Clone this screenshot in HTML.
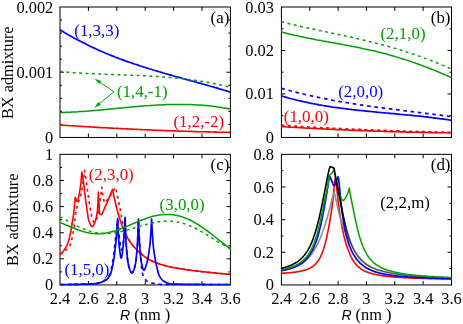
<!DOCTYPE html>
<html><head><meta charset="utf-8"><title>BX admixture</title>
<style>
html,body{margin:0;padding:0;background:#fff;}
svg{display:block;will-change:transform;}
text{font-family:"Liberation Serif",serif;font-size:16.4px;}
.lb{font-size:16.9px;}
.R{font-family:"Liberation Sans",sans-serif;font-style:italic;font-size:14px;}
</style></head>
<body>
<svg width="463" height="324" viewBox="0 0 463 324">
<rect width="463" height="324" fill="#fff"/>
<rect x="60.00" y="7.00" width="170.40" height="130.45" fill="none" stroke="#000" stroke-width="1.00"/>
<path d="M88.40 137.45 v-3.9 M88.40 7.00 v3.9 M116.80 137.45 v-3.9 M116.80 7.00 v3.9 M145.20 137.45 v-3.9 M145.20 7.00 v3.9 M173.60 137.45 v-3.9 M173.60 7.00 v3.9 M202.00 137.45 v-3.9 M202.00 7.00 v3.9 M60.00 72.22 h3.9 M230.40 72.22 h-3.9 M60.00 20.04 h2.0 M230.40 20.04 h-2.0 M60.00 33.09 h2.0 M230.40 33.09 h-2.0 M60.00 46.13 h2.0 M230.40 46.13 h-2.0 M60.00 59.18 h2.0 M230.40 59.18 h-2.0 M60.00 85.27 h2.0 M230.40 85.27 h-2.0 M60.00 98.31 h2.0 M230.40 98.31 h-2.0 M60.00 111.36 h2.0 M230.40 111.36 h-2.0 M60.00 124.41 h2.0 M230.40 124.41 h-2.0" fill="none" stroke="#000" stroke-width="1.00"/>
<rect x="281.40" y="7.00" width="170.10" height="130.45" fill="none" stroke="#000" stroke-width="1.00"/>
<path d="M309.75 137.45 v-3.9 M309.75 7.00 v3.9 M338.10 137.45 v-3.9 M338.10 7.00 v3.9 M366.45 137.45 v-3.9 M366.45 7.00 v3.9 M394.80 137.45 v-3.9 M394.80 7.00 v3.9 M423.15 137.45 v-3.9 M423.15 7.00 v3.9 M281.40 50.48 h3.9 M451.50 50.48 h-3.9 M281.40 93.97 h3.9 M451.50 93.97 h-3.9 M281.40 28.74 h2.0 M451.50 28.74 h-2.0 M281.40 72.22 h2.0 M451.50 72.22 h-2.0 M281.40 115.71 h2.0 M451.50 115.71 h-2.0" fill="none" stroke="#000" stroke-width="1.00"/>
<rect x="60.00" y="154.35" width="170.40" height="130.60" fill="none" stroke="#000" stroke-width="1.00"/>
<path d="M88.40 284.95 v-3.9 M88.40 154.35 v3.9 M116.80 284.95 v-3.9 M116.80 154.35 v3.9 M145.20 284.95 v-3.9 M145.20 154.35 v3.9 M173.60 284.95 v-3.9 M173.60 154.35 v3.9 M202.00 284.95 v-3.9 M202.00 154.35 v3.9 M60.00 180.47 h3.9 M230.40 180.47 h-3.9 M60.00 206.59 h3.9 M230.40 206.59 h-3.9 M60.00 232.71 h3.9 M230.40 232.71 h-3.9 M60.00 258.83 h3.9 M230.40 258.83 h-3.9 M60.00 167.41 h2.0 M230.40 167.41 h-2.0 M60.00 193.53 h2.0 M230.40 193.53 h-2.0 M60.00 219.65 h2.0 M230.40 219.65 h-2.0 M60.00 245.77 h2.0 M230.40 245.77 h-2.0 M60.00 271.89 h2.0 M230.40 271.89 h-2.0" fill="none" stroke="#000" stroke-width="1.00"/>
<rect x="281.40" y="154.35" width="170.10" height="130.60" fill="none" stroke="#000" stroke-width="1.00"/>
<path d="M309.75 284.95 v-3.9 M309.75 154.35 v3.9 M338.10 284.95 v-3.9 M338.10 154.35 v3.9 M366.45 284.95 v-3.9 M366.45 154.35 v3.9 M394.80 284.95 v-3.9 M394.80 154.35 v3.9 M423.15 284.95 v-3.9 M423.15 154.35 v3.9 M281.40 187.00 h3.9 M451.50 187.00 h-3.9 M281.40 219.65 h3.9 M451.50 219.65 h-3.9 M281.40 252.30 h3.9 M451.50 252.30 h-3.9 M281.40 170.67 h2.0 M451.50 170.67 h-2.0 M281.40 203.32 h2.0 M451.50 203.32 h-2.0 M281.40 235.97 h2.0 M451.50 235.97 h-2.0 M281.40 268.62 h2.0 M451.50 268.62 h-2.0" fill="none" stroke="#000" stroke-width="1.00"/>
<path d="M60.0 29.8 L62.0 31.0 L64.0 32.2 L65.9 33.4 L67.9 34.6 L69.9 35.7 L71.9 36.8 L73.9 37.9 L75.9 39.0 L77.8 40.1 L79.8 41.1 L81.8 42.1 L83.8 43.1 L85.8 44.1 L87.7 45.1 L89.7 46.1 L91.7 47.0 L93.7 47.9 L95.7 48.8 L97.6 49.7 L99.6 50.6 L101.6 51.5 L103.6 52.3 L105.6 53.2 L107.6 54.0 L109.5 54.8 L111.5 55.6 L113.5 56.4 L115.5 57.2 L117.5 57.9 L119.4 58.7 L121.4 59.4 L123.4 60.1 L125.4 60.9 L127.4 61.6 L129.3 62.3 L131.3 62.9 L133.3 63.6 L135.3 64.3 L137.3 64.9 L139.3 65.6 L141.2 66.2 L143.2 66.9 L145.2 67.5 L147.2 68.1 L149.2 68.7 L151.1 69.3 L153.1 70.0 L155.1 70.5 L157.1 71.1 L159.1 71.7 L161.1 72.3 L163.0 72.9 L165.0 73.5 L167.0 74.0 L169.0 74.6 L171.0 75.1 L172.9 75.7 L174.9 76.3 L176.9 76.8 L178.9 77.4 L180.9 77.9 L182.8 78.5 L184.8 79.0 L186.8 79.6 L188.8 80.1 L190.8 80.7 L192.8 81.2 L194.7 81.8 L196.7 82.3 L198.7 82.9 L200.7 83.4 L202.7 84.0 L204.6 84.5 L206.6 85.1 L208.6 85.7 L210.6 86.2 L212.6 86.8 L214.5 87.4 L216.5 87.9 L218.5 88.5 L220.5 89.1 L222.5 89.7 L224.5 90.3 L226.4 90.9 L228.4 91.5 L230.4 92.2" fill="none" stroke="#0000ff" stroke-width="1.70" stroke-linejoin="round"/>
<path d="M60.0 71.4 L62.0 71.6 L64.0 71.8 L65.9 72.0 L67.9 72.2 L69.9 72.4 L71.9 72.5 L73.9 72.7 L75.9 72.8 L77.8 73.0 L79.8 73.1 L81.8 73.2 L83.8 73.3 L85.8 73.5 L87.7 73.6 L89.7 73.7 L91.7 73.8 L93.7 73.8 L95.7 73.9 L97.6 74.0 L99.6 74.1 L101.6 74.2 L103.6 74.2 L105.6 74.3 L107.6 74.4 L109.5 74.4 L111.5 74.5 L113.5 74.6 L115.5 74.6 L117.5 74.7 L119.4 74.7 L121.4 74.8 L123.4 74.9 L125.4 74.9 L127.4 75.0 L129.3 75.1 L131.3 75.2 L133.3 75.2 L135.3 75.3 L137.3 75.4 L139.3 75.5 L141.2 75.6 L143.2 75.7 L145.2 75.8 L147.2 75.9 L149.2 76.0 L151.1 76.1 L153.1 76.2 L155.1 76.3 L157.1 76.4 L159.1 76.6 L161.1 76.7 L163.0 76.9 L165.0 77.0 L167.0 77.2 L169.0 77.4 L171.0 77.5 L172.9 77.7 L174.9 77.9 L176.9 78.1 L178.9 78.3 L180.9 78.5 L182.8 78.8 L184.8 79.0 L186.8 79.2 L188.8 79.5 L190.8 79.8 L192.8 80.0 L194.7 80.3 L196.7 80.6 L198.7 80.9 L200.7 81.2 L202.7 81.5 L204.6 81.9 L206.6 82.2 L208.6 82.6 L210.6 82.9 L212.6 83.3 L214.5 83.7 L216.5 84.1 L218.5 84.5 L220.5 84.9 L222.5 85.4 L224.5 85.8 L226.4 86.3 L228.4 86.7 L230.4 87.2" fill="none" stroke="#00a000" stroke-width="1.50" stroke-linejoin="round" stroke-dasharray="2.9 3.5"/>
<path d="M60.0 112.5 L62.0 112.5 L64.0 112.4 L65.9 112.3 L67.9 112.3 L69.9 112.2 L71.9 112.1 L73.9 112.0 L75.9 111.9 L77.8 111.8 L79.8 111.6 L81.8 111.5 L83.8 111.4 L85.8 111.2 L87.7 111.1 L89.7 110.9 L91.7 110.7 L93.7 110.6 L95.7 110.4 L97.6 110.2 L99.6 110.0 L101.6 109.9 L103.6 109.7 L105.6 109.5 L107.6 109.3 L109.5 109.1 L111.5 108.9 L113.5 108.7 L115.5 108.5 L117.5 108.3 L119.4 108.1 L121.4 107.9 L123.4 107.8 L125.4 107.6 L127.4 107.4 L129.3 107.2 L131.3 107.0 L133.3 106.8 L135.3 106.7 L137.3 106.5 L139.3 106.3 L141.2 106.2 L143.2 106.0 L145.2 105.8 L147.2 105.7 L149.2 105.6 L151.1 105.4 L153.1 105.3 L155.1 105.2 L157.1 105.1 L159.1 105.0 L161.1 104.9 L163.0 104.8 L165.0 104.7 L167.0 104.6 L169.0 104.6 L171.0 104.5 L172.9 104.5 L174.9 104.4 L176.9 104.4 L178.9 104.4 L180.9 104.4 L182.8 104.4 L184.8 104.5 L186.8 104.5 L188.8 104.6 L190.8 104.6 L192.8 104.7 L194.7 104.8 L196.7 104.9 L198.7 105.0 L200.7 105.1 L202.7 105.3 L204.6 105.5 L206.6 105.6 L208.6 105.8 L210.6 106.0 L212.6 106.3 L214.5 106.5 L216.5 106.8 L218.5 107.1 L220.5 107.3 L222.5 107.7 L224.5 108.0 L226.4 108.3 L228.4 108.7 L230.4 109.1" fill="none" stroke="#00a000" stroke-width="1.50" stroke-linejoin="round"/>
<path d="M60.0 125.0 L62.0 125.1 L64.0 125.3 L65.9 125.4 L67.9 125.5 L69.9 125.7 L71.9 125.8 L73.9 125.9 L75.9 126.0 L77.8 126.2 L79.8 126.3 L81.8 126.4 L83.8 126.5 L85.8 126.7 L87.7 126.8 L89.7 126.9 L91.7 127.0 L93.7 127.1 L95.7 127.3 L97.6 127.4 L99.6 127.5 L101.6 127.6 L103.6 127.7 L105.6 127.8 L107.6 127.9 L109.5 128.0 L111.5 128.1 L113.5 128.2 L115.5 128.3 L117.5 128.4 L119.4 128.5 L121.4 128.6 L123.4 128.7 L125.4 128.8 L127.4 128.9 L129.3 129.0 L131.3 129.1 L133.3 129.2 L135.3 129.3 L137.3 129.4 L139.3 129.5 L141.2 129.6 L143.2 129.7 L145.2 129.8 L147.2 129.9 L149.2 129.9 L151.1 130.0 L153.1 130.1 L155.1 130.2 L157.1 130.3 L159.1 130.3 L161.1 130.4 L163.0 130.5 L165.0 130.6 L167.0 130.6 L169.0 130.7 L171.0 130.8 L172.9 130.9 L174.9 130.9 L176.9 131.0 L178.9 131.1 L180.9 131.1 L182.8 131.2 L184.8 131.3 L186.8 131.3 L188.8 131.4 L190.8 131.4 L192.8 131.5 L194.7 131.6 L196.7 131.6 L198.7 131.7 L200.7 131.7 L202.7 131.8 L204.6 131.8 L206.6 131.9 L208.6 131.9 L210.6 132.0 L212.6 132.0 L214.5 132.1 L216.5 132.1 L218.5 132.2 L220.5 132.2 L222.5 132.2 L224.5 132.3 L226.4 132.3 L228.4 132.4 L230.4 132.4" fill="none" stroke="#ff0000" stroke-width="1.60" stroke-linejoin="round"/>
<path d="M114.0 91.8 L100.1 82.4" fill="none" stroke="#00a000" stroke-width="1"/>
<path d="M94.9 78.9 L101.1 81.0 L99.2 83.8 Z" fill="#00a000" stroke="#00a000" stroke-width="0.3"/>
<path d="M114.0 91.8 L99.6 103.4" fill="none" stroke="#00a000" stroke-width="1"/>
<path d="M94.7 107.4 L98.5 102.1 L100.7 104.8 Z" fill="#00a000" stroke="#00a000" stroke-width="0.3"/>
<path d="M281.4 21.7 L283.4 22.2 L285.4 22.7 L287.3 23.2 L289.3 23.7 L291.3 24.2 L293.3 24.6 L295.2 25.1 L297.2 25.6 L299.2 26.0 L301.2 26.5 L303.2 26.9 L305.1 27.4 L307.1 27.8 L309.1 28.2 L311.1 28.7 L313.0 29.1 L315.0 29.5 L317.0 30.0 L319.0 30.4 L321.0 30.8 L322.9 31.2 L324.9 31.6 L326.9 32.1 L328.9 32.5 L330.8 32.9 L332.8 33.3 L334.8 33.7 L336.8 34.1 L338.8 34.6 L340.7 35.0 L342.7 35.4 L344.7 35.8 L346.7 36.3 L348.6 36.7 L350.6 37.1 L352.6 37.6 L354.6 38.0 L356.6 38.5 L358.5 38.9 L360.5 39.4 L362.5 39.9 L364.5 40.3 L366.4 40.8 L368.4 41.3 L370.4 41.8 L372.4 42.3 L374.4 42.7 L376.3 43.3 L378.3 43.8 L380.3 44.3 L382.3 44.8 L384.3 45.3 L386.2 45.9 L388.2 46.4 L390.2 47.0 L392.2 47.5 L394.1 48.1 L396.1 48.7 L398.1 49.3 L400.1 49.9 L402.1 50.5 L404.0 51.1 L406.0 51.7 L408.0 52.4 L410.0 53.0 L411.9 53.7 L413.9 54.3 L415.9 55.0 L417.9 55.7 L419.9 56.4 L421.8 57.1 L423.8 57.8 L425.8 58.6 L427.8 59.3 L429.7 60.0 L431.7 60.8 L433.7 61.6 L435.7 62.4 L437.7 63.2 L439.6 64.0 L441.6 64.8 L443.6 65.6 L445.6 66.5 L447.5 67.3 L449.5 68.2 L451.5 69.1" fill="none" stroke="#00a000" stroke-width="1.50" stroke-linejoin="round" stroke-dasharray="2.9 3.5"/>
<path d="M281.4 31.8 L283.4 32.4 L285.4 32.9 L287.3 33.4 L289.3 33.9 L291.3 34.4 L293.3 34.9 L295.2 35.4 L297.2 35.8 L299.2 36.3 L301.2 36.7 L303.2 37.1 L305.1 37.5 L307.1 37.9 L309.1 38.3 L311.1 38.7 L313.0 39.1 L315.0 39.5 L317.0 39.9 L319.0 40.2 L321.0 40.6 L322.9 41.0 L324.9 41.3 L326.9 41.7 L328.9 42.0 L330.8 42.4 L332.8 42.7 L334.8 43.1 L336.8 43.5 L338.8 43.8 L340.7 44.2 L342.7 44.5 L344.7 44.9 L346.7 45.3 L348.6 45.6 L350.6 46.0 L352.6 46.4 L354.6 46.8 L356.6 47.2 L358.5 47.6 L360.5 48.0 L362.5 48.4 L364.5 48.9 L366.4 49.3 L368.4 49.7 L370.4 50.2 L372.4 50.6 L374.4 51.1 L376.3 51.6 L378.3 52.0 L380.3 52.5 L382.3 53.0 L384.3 53.6 L386.2 54.1 L388.2 54.6 L390.2 55.2 L392.2 55.7 L394.1 56.3 L396.1 56.9 L398.1 57.5 L400.1 58.1 L402.1 58.7 L404.0 59.3 L406.0 59.9 L408.0 60.6 L410.0 61.2 L411.9 61.9 L413.9 62.6 L415.9 63.3 L417.9 64.0 L419.9 64.7 L421.8 65.4 L423.8 66.2 L425.8 66.9 L427.8 67.7 L429.7 68.5 L431.7 69.3 L433.7 70.1 L435.7 70.9 L437.7 71.7 L439.6 72.5 L441.6 73.4 L443.6 74.2 L445.6 75.1 L447.5 75.9 L449.5 76.8 L451.5 77.7" fill="none" stroke="#00a000" stroke-width="1.50" stroke-linejoin="round"/>
<path d="M281.4 88.3 L283.4 88.9 L285.4 89.4 L287.3 90.0 L289.3 90.5 L291.3 91.0 L293.3 91.6 L295.2 92.1 L297.2 92.6 L299.2 93.1 L301.2 93.5 L303.2 94.0 L305.1 94.5 L307.1 94.9 L309.1 95.4 L311.1 95.8 L313.0 96.3 L315.0 96.7 L317.0 97.1 L319.0 97.5 L321.0 97.9 L322.9 98.3 L324.9 98.7 L326.9 99.1 L328.9 99.5 L330.8 99.9 L332.8 100.3 L334.8 100.6 L336.8 101.0 L338.8 101.3 L340.7 101.7 L342.7 102.0 L344.7 102.3 L346.7 102.7 L348.6 103.0 L350.6 103.3 L352.6 103.6 L354.6 103.9 L356.6 104.3 L358.5 104.6 L360.5 104.9 L362.5 105.1 L364.5 105.4 L366.4 105.7 L368.4 106.0 L370.4 106.3 L372.4 106.6 L374.4 106.8 L376.3 107.1 L378.3 107.4 L380.3 107.6 L382.3 107.9 L384.3 108.2 L386.2 108.4 L388.2 108.7 L390.2 108.9 L392.2 109.2 L394.1 109.4 L396.1 109.7 L398.1 109.9 L400.1 110.2 L402.1 110.4 L404.0 110.7 L406.0 110.9 L408.0 111.1 L410.0 111.4 L411.9 111.6 L413.9 111.9 L415.9 112.1 L417.9 112.3 L419.9 112.6 L421.8 112.8 L423.8 113.1 L425.8 113.3 L427.8 113.6 L429.7 113.8 L431.7 114.1 L433.7 114.3 L435.7 114.5 L437.7 114.8 L439.6 115.0 L441.6 115.3 L443.6 115.6 L445.6 115.8 L447.5 116.1 L449.5 116.3 L451.5 116.6" fill="none" stroke="#0000ff" stroke-width="1.70" stroke-linejoin="round" stroke-dasharray="3.6 3.7"/>
<path d="M281.4 95.9 L283.4 96.5 L285.4 97.1 L287.3 97.6 L289.3 98.2 L291.3 98.7 L293.3 99.2 L295.2 99.7 L297.2 100.2 L299.2 100.7 L301.2 101.1 L303.2 101.6 L305.1 102.0 L307.1 102.4 L309.1 102.9 L311.1 103.3 L313.0 103.7 L315.0 104.0 L317.0 104.4 L319.0 104.8 L321.0 105.1 L322.9 105.5 L324.9 105.8 L326.9 106.1 L328.9 106.4 L330.8 106.8 L332.8 107.1 L334.8 107.3 L336.8 107.6 L338.8 107.9 L340.7 108.2 L342.7 108.4 L344.7 108.7 L346.7 108.9 L348.6 109.2 L350.6 109.4 L352.6 109.7 L354.6 109.9 L356.6 110.1 L358.5 110.3 L360.5 110.5 L362.5 110.7 L364.5 110.9 L366.4 111.1 L368.4 111.3 L370.4 111.5 L372.4 111.7 L374.4 111.9 L376.3 112.1 L378.3 112.3 L380.3 112.5 L382.3 112.7 L384.3 112.8 L386.2 113.0 L388.2 113.2 L390.2 113.4 L392.2 113.6 L394.1 113.7 L396.1 113.9 L398.1 114.1 L400.1 114.3 L402.1 114.5 L404.0 114.7 L406.0 114.8 L408.0 115.0 L410.0 115.2 L411.9 115.4 L413.9 115.6 L415.9 115.8 L417.9 116.0 L419.9 116.2 L421.8 116.4 L423.8 116.7 L425.8 116.9 L427.8 117.1 L429.7 117.3 L431.7 117.6 L433.7 117.8 L435.7 118.1 L437.7 118.3 L439.6 118.6 L441.6 118.8 L443.6 119.1 L445.6 119.4 L447.5 119.7 L449.5 120.0 L451.5 120.3" fill="none" stroke="#0000ff" stroke-width="1.70" stroke-linejoin="round"/>
<path d="M281.4 126.6 L283.4 126.7 L285.4 126.8 L287.3 127.0 L289.3 127.1 L291.3 127.2 L293.3 127.3 L295.2 127.4 L297.2 127.5 L299.2 127.6 L301.2 127.8 L303.2 127.9 L305.1 128.0 L307.1 128.1 L309.1 128.2 L311.1 128.3 L313.0 128.4 L315.0 128.5 L317.0 128.6 L319.0 128.7 L321.0 128.8 L322.9 128.9 L324.9 129.0 L326.9 129.1 L328.9 129.2 L330.8 129.3 L332.8 129.4 L334.8 129.5 L336.8 129.6 L338.8 129.6 L340.7 129.7 L342.7 129.8 L344.7 129.9 L346.7 130.0 L348.6 130.1 L350.6 130.2 L352.6 130.2 L354.6 130.3 L356.6 130.4 L358.5 130.5 L360.5 130.6 L362.5 130.6 L364.5 130.7 L366.4 130.8 L368.4 130.9 L370.4 130.9 L372.4 131.0 L374.4 131.1 L376.3 131.1 L378.3 131.2 L380.3 131.3 L382.3 131.3 L384.3 131.4 L386.2 131.5 L388.2 131.5 L390.2 131.6 L392.2 131.6 L394.1 131.7 L396.1 131.8 L398.1 131.8 L400.1 131.9 L402.1 131.9 L404.0 132.0 L406.0 132.0 L408.0 132.1 L410.0 132.1 L411.9 132.2 L413.9 132.2 L415.9 132.3 L417.9 132.3 L419.9 132.4 L421.8 132.4 L423.8 132.4 L425.8 132.5 L427.8 132.5 L429.7 132.6 L431.7 132.6 L433.7 132.6 L435.7 132.7 L437.7 132.7 L439.6 132.7 L441.6 132.8 L443.6 132.8 L445.6 132.8 L447.5 132.8 L449.5 132.9 L451.5 132.9" fill="none" stroke="#ff0000" stroke-width="1.60" stroke-linejoin="round"/>
<path d="M281.4 125.3 L283.4 125.4 L285.4 125.5 L287.3 125.7 L289.3 125.8 L291.3 125.9 L293.3 126.0 L295.2 126.1 L297.2 126.2 L299.2 126.4 L301.2 126.5 L303.2 126.6 L305.1 126.7 L307.1 126.8 L309.1 126.9 L311.1 127.0 L313.0 127.1 L315.0 127.2 L317.0 127.3 L319.0 127.5 L321.0 127.6 L322.9 127.7 L324.9 127.8 L326.9 127.9 L328.9 128.0 L330.8 128.1 L332.8 128.2 L334.8 128.3 L336.8 128.3 L338.8 128.4 L340.7 128.5 L342.7 128.6 L344.7 128.7 L346.7 128.8 L348.6 128.9 L350.6 129.0 L352.6 129.1 L354.6 129.2 L356.6 129.3 L358.5 129.3 L360.5 129.4 L362.5 129.5 L364.5 129.6 L366.4 129.7 L368.4 129.8 L370.4 129.8 L372.4 129.9 L374.4 130.0 L376.3 130.1 L378.3 130.1 L380.3 130.2 L382.3 130.3 L384.3 130.4 L386.2 130.4 L388.2 130.5 L390.2 130.6 L392.2 130.7 L394.1 130.7 L396.1 130.8 L398.1 130.9 L400.1 130.9 L402.1 131.0 L404.0 131.1 L406.0 131.1 L408.0 131.2 L410.0 131.2 L411.9 131.3 L413.9 131.4 L415.9 131.4 L417.9 131.5 L419.9 131.5 L421.8 131.6 L423.8 131.6 L425.8 131.7 L427.8 131.7 L429.7 131.8 L431.7 131.8 L433.7 131.9 L435.7 131.9 L437.7 132.0 L439.6 132.0 L441.6 132.1 L443.6 132.1 L445.6 132.2 L447.5 132.2 L449.5 132.3 L451.5 132.3" fill="none" stroke="#ff0000" stroke-width="1.60" stroke-linejoin="round" stroke-dasharray="2.9 3.5"/>
<path d="M60.0 253.9 L60.5 253.7 L61.0 253.5 L61.5 253.1 L62.0 252.7 L62.5 252.2 L62.9 251.6 L63.4 251.0 L63.9 250.3 L64.4 249.6 L64.9 248.8 L65.4 248.1 L65.8 247.4 L65.9 247.3 L66.4 246.4 L66.9 245.4 L67.4 244.2 L67.8 243.0 L68.3 241.6 L68.8 240.0 L69.3 238.4 L69.7 237.0 L69.8 236.6 L70.3 234.3 L70.8 231.5 L71.3 228.6 L71.6 226.7 L71.8 225.7 L72.3 223.0 L72.7 220.1 L73.2 216.9 L73.5 215.0 L73.7 213.1 L74.2 208.5 L74.7 203.2 L75.2 197.3 L76.8 201.2 L77.3 200.8 L77.8 199.8 L78.3 198.3 L78.8 196.2 L79.3 193.6 L79.8 190.8 L80.3 187.7 L80.7 185.0 L80.8 184.3 L81.3 178.8 L81.8 172.0 L82.3 174.6 L82.8 177.5 L83.3 180.6 L83.8 184.0 L83.9 185.0 L84.2 187.6 L84.7 191.9 L85.2 196.2 L85.7 200.3 L85.9 201.8 L86.2 203.9 L86.7 207.5 L87.2 211.1 L87.7 214.4 L88.1 217.3 L88.6 219.7 L89.1 221.3 L89.1 221.4 L89.6 222.6 L90.1 223.8 L90.6 224.9 L91.1 225.8 L91.6 226.4 L92.1 226.8 L92.3 226.8 L92.5 226.7 L93.0 226.3 L93.5 225.6 L94.0 224.5 L94.5 223.3 L95.0 221.9 L95.5 220.4 L95.6 220.0 L96.0 218.8 L96.4 216.9 L96.9 214.3 L97.4 210.7 L97.5 210.0 L97.9 203.6 L98.4 192.0 L99.5 213.5 L100.0 214.1 L100.5 214.4 L101.0 214.6 L101.2 214.6 L101.5 214.5 L102.0 214.0 L102.5 213.2 L103.0 212.1 L103.5 210.8 L104.0 209.5 L104.5 208.2 L105.0 207.0 L105.5 205.9 L106.0 204.8 L106.5 203.7 L107.0 202.6 L107.5 201.5 L108.0 200.3 L108.5 199.2 L109.0 198.0 L109.5 196.8 L110.0 195.6 L110.5 194.4 L111.0 193.1 L111.5 191.9 L112.0 190.6 L112.5 189.3 L113.0 191.9 L113.5 194.4 L114.0 196.8 L114.5 199.1 L114.7 200.0 L115.0 201.3 L115.5 203.4 L116.0 205.5 L116.5 207.5 L117.0 209.4 L117.5 211.2 L118.0 213.0 L118.0 213.0 L118.5 214.7 L119.0 216.4 L119.5 218.1 L120.0 219.7 L120.5 221.2 L121.0 222.8 L121.5 224.2 L122.0 225.6 L122.5 227.0 L123.0 228.2 L123.1 228.5 L123.5 229.4 L124.0 230.6 L124.5 231.7 L125.0 232.8 L125.5 233.9 L126.0 234.9 L126.5 235.9 L127.0 236.8 L127.5 237.7 L128.0 238.6 L128.5 239.4 L129.0 240.2 L129.0 240.2 L129.5 240.9 L130.0 241.7 L130.5 242.4 L131.0 243.1 L131.5 243.7 L132.0 244.4 L132.5 245.0 L133.0 245.6 L133.5 246.2 L134.0 246.8 L134.5 247.4 L135.0 247.9 L135.5 248.5 L136.0 249.0 L136.5 249.5 L137.0 250.0 L137.5 250.5 L138.0 251.0 L138.0 251.0 L138.5 251.4 L139.0 251.9 L139.5 252.4 L140.0 252.8 L140.5 253.2 L141.0 253.7 L141.5 254.1 L142.0 254.5 L142.5 254.9 L143.0 255.4 L143.5 255.8 L144.0 256.1 L144.5 256.5 L145.0 256.9 L145.5 257.3 L146.0 257.6 L146.5 257.9 L147.0 258.3 L147.5 258.6 L148.0 258.9 L148.5 259.2 L149.0 259.5 L149.5 259.7 L150.0 260.0 L150.0 260.0 L150.5 260.2 L151.0 260.5 L151.5 260.7 L152.0 260.9 L152.5 261.2 L153.0 261.4 L153.5 261.6 L154.0 261.8 L154.5 262.0 L155.0 262.2 L155.5 262.4 L156.0 262.6 L156.5 262.8 L157.0 263.0 L157.5 263.2 L158.0 263.4 L158.5 263.6 L159.0 263.7 L159.5 263.9 L160.0 264.1 L160.5 264.2 L161.0 264.4 L161.5 264.6 L162.0 264.7 L162.5 264.9 L163.0 265.0 L163.5 265.2 L164.0 265.3 L164.5 265.5 L165.0 265.6 L165.5 265.7 L166.0 265.9 L166.5 266.0 L167.0 266.1 L167.5 266.2 L168.0 266.4 L168.5 266.5 L168.5 266.5 L169.0 266.6 L169.5 266.7 L170.0 266.8 L170.5 266.9 L171.0 267.1 L171.4 267.2 L171.9 267.3 L172.4 267.4 L172.9 267.5 L173.4 267.6 L173.9 267.7 L174.4 267.8 L174.9 267.9 L175.4 268.0 L175.9 268.0 L176.4 268.1 L176.9 268.2 L177.4 268.3 L177.9 268.4 L178.4 268.5 L178.9 268.6 L179.4 268.7 L179.9 268.7 L180.4 268.8 L180.9 268.9 L181.4 269.0 L181.9 269.1 L182.4 269.1 L182.9 269.2 L183.4 269.3 L183.9 269.4 L184.4 269.4 L184.9 269.5 L185.4 269.6 L185.9 269.6 L186.4 269.7 L186.9 269.8 L187.0 269.8 L187.4 269.9 L187.9 269.9 L188.4 270.0 L188.9 270.1 L189.4 270.1 L189.9 270.2 L190.4 270.3 L190.9 270.3 L191.4 270.4 L191.9 270.5 L192.4 270.5 L192.9 270.6 L193.4 270.6 L193.9 270.7 L194.4 270.8 L194.9 270.8 L195.4 270.9 L195.9 270.9 L196.4 271.0 L196.9 271.1 L197.4 271.1 L197.9 271.2 L198.4 271.2 L198.9 271.3 L199.4 271.3 L199.9 271.4 L200.4 271.4 L200.9 271.5 L201.4 271.6 L201.9 271.6 L202.4 271.7 L202.9 271.7 L203.4 271.8 L203.9 271.8 L204.4 271.9 L204.9 271.9 L205.4 272.0 L205.6 272.0 L205.9 272.0 L206.4 272.1 L206.9 272.1 L207.4 272.2 L207.9 272.2 L208.4 272.3 L208.9 272.4 L209.4 272.4 L209.9 272.5 L210.4 272.5 L210.9 272.6 L211.4 272.6 L211.9 272.7 L212.4 272.7 L212.9 272.8 L213.4 272.8 L213.9 272.9 L214.4 272.9 L214.9 273.0 L215.4 273.0 L215.9 273.1 L216.4 273.1 L216.9 273.2 L217.4 273.2 L217.9 273.3 L218.4 273.3 L218.9 273.4 L219.4 273.4 L219.9 273.5 L220.4 273.5 L220.9 273.5 L221.4 273.6 L221.9 273.6 L222.4 273.7 L222.9 273.7 L223.4 273.8 L223.9 273.8 L224.4 273.9 L224.9 273.9 L225.4 274.0 L225.9 274.0 L226.4 274.1 L226.9 274.1 L227.4 274.1 L227.9 274.2 L228.4 274.2 L228.9 274.3 L229.4 274.3 L229.9 274.4 L230.4 274.4" fill="none" stroke="#ff0000" stroke-width="1.60" stroke-linejoin="round"/>
<path d="M60.0 254.5 L60.5 254.2 L61.0 253.9 L61.5 253.6 L62.0 253.3 L62.5 252.9 L63.0 252.6 L63.4 252.2 L63.9 251.8 L64.4 251.4 L64.5 251.3 L64.9 250.9 L65.4 250.5 L65.9 250.1 L66.4 249.7 L66.9 249.3 L67.4 248.8 L67.9 248.3 L68.4 247.8 L68.9 247.1 L69.3 246.4 L69.8 245.6 L70.3 244.8 L70.3 244.7 L70.8 243.4 L71.3 241.5 L71.8 239.3 L72.3 237.0 L72.8 234.7 L73.3 232.2 L73.8 229.4 L74.2 226.7 L74.3 226.2 L74.8 221.8 L75.3 217.0 L75.5 215.0 L75.7 213.4 L76.2 210.5 L76.7 208.0 L76.8 207.7 L77.2 206.0 L77.7 204.2 L78.2 202.7 L78.7 201.3 L79.2 200.0 L79.7 198.6 L80.2 197.1 L80.7 195.4 L81.2 193.4 L81.3 192.8 L81.6 191.1 L82.1 188.4 L82.6 185.3 L83.1 181.9 L83.6 178.3 L84.1 174.4 L84.6 170.4 L85.1 173.4 L85.6 176.6 L86.1 179.8 L86.6 183.1 L87.0 186.5 L87.2 187.6 L87.5 190.0 L88.0 193.8 L88.5 197.6 L89.0 201.1 L89.1 201.8 L89.5 204.3 L90.0 207.4 L90.5 210.3 L91.0 212.9 L91.4 215.1 L91.7 216.1 L91.9 216.9 L92.4 218.6 L92.9 220.2 L93.4 221.5 L93.9 222.3 L94.3 222.6 L94.4 222.6 L94.9 222.3 L95.3 221.7 L95.8 220.8 L96.3 219.7 L96.8 218.5 L97.0 218.0 L97.3 217.1 L97.8 215.1 L98.3 212.5 L98.8 209.5 L99.3 206.3 L99.7 202.9 L100.1 200.5 L100.2 199.6 L100.7 195.8 L101.2 191.7 L101.7 187.3 L102.2 190.8 L102.7 193.9 L103.0 195.7 L103.2 196.5 L103.6 199.0 L104.1 201.2 L104.6 202.6 L104.9 202.9 L105.1 202.9 L105.6 202.6 L106.1 202.0 L106.6 201.3 L107.0 200.5 L107.5 199.7 L108.0 199.0 L108.0 199.0 L108.5 198.3 L109.0 197.6 L109.5 196.9 L110.0 196.2 L110.4 195.4 L110.9 194.7 L111.4 193.9 L111.9 193.2 L112.4 192.4 L112.9 191.6 L113.4 190.7 L113.8 189.9 L114.3 189.1 L114.8 188.2 L115.3 187.3 L115.8 189.3 L116.3 191.3 L116.8 193.4 L117.3 195.6 L117.8 197.8 L117.9 198.3 L118.3 200.1 L118.8 202.5 L119.3 205.0 L119.8 207.6 L120.3 210.2 L120.5 211.3 L120.8 212.8 L121.3 215.6 L121.8 218.4 L122.3 221.0 L122.5 222.0 L122.8 223.2 L123.3 225.3 L123.8 227.3 L124.3 229.2 L124.8 230.8 L125.0 231.5 L125.3 232.2 L125.8 233.6 L126.3 234.8 L126.8 235.9 L127.3 237.0 L127.8 238.0 L128.3 238.9 L128.8 239.8 L129.0 240.2 L129.3 240.6 L129.7 241.4 L130.2 242.1 L130.7 242.8 L131.2 243.5 L131.7 244.2 L132.2 244.8 L132.7 245.4 L133.2 246.0 L133.7 246.6 L134.2 247.2 L134.7 247.7 L135.2 248.3 L135.7 248.8 L136.2 249.3 L136.7 249.8 L137.2 250.3 L137.7 250.7 L138.0 251.0 L138.2 251.2 L138.7 251.7 L139.2 252.1 L139.7 252.6 L140.2 253.0 L140.7 253.5 L141.2 253.9 L141.7 254.3 L142.2 254.7 L142.7 255.1 L143.2 255.5 L143.7 255.9 L144.2 256.3 L144.7 256.7 L145.2 257.1 L145.7 257.4 L146.2 257.8 L146.7 258.1 L147.2 258.4 L147.7 258.7 L148.2 259.0 L148.7 259.3 L149.2 259.6 L149.7 259.8 L150.0 260.0 L150.2 260.1 L150.7 260.3 L151.2 260.6 L151.7 260.8 L152.2 261.0 L152.7 261.2 L153.2 261.5 L153.7 261.7 L154.2 261.9 L154.7 262.1 L155.2 262.3 L155.7 262.5 L156.2 262.7 L156.7 262.9 L157.2 263.1 L157.7 263.3 L158.2 263.5 L158.6 263.6 L159.1 263.8 L159.6 264.0 L160.1 264.1 L160.6 264.3 L161.1 264.5 L161.6 264.6 L162.1 264.8 L162.6 264.9 L163.1 265.1 L163.6 265.2 L164.1 265.4 L164.6 265.5 L165.1 265.6 L165.6 265.8 L166.1 265.9 L166.6 266.0 L167.1 266.2 L167.6 266.3 L168.1 266.4 L168.5 266.5 L168.6 266.5 L169.1 266.6 L169.6 266.8 L170.1 266.9 L170.6 267.0 L171.1 267.1 L171.6 267.2 L172.1 267.3 L172.6 267.4 L173.1 267.5 L173.6 267.6 L174.1 267.7 L174.6 267.8 L175.1 267.9 L175.6 268.0 L176.1 268.1 L176.6 268.2 L177.1 268.3 L177.6 268.3 L178.1 268.4 L178.6 268.5 L179.1 268.6 L179.6 268.7 L180.1 268.8 L180.6 268.8 L181.1 268.9 L181.6 269.0 L182.1 269.1 L182.6 269.1 L183.1 269.2 L183.6 269.3 L184.1 269.4 L184.6 269.4 L185.1 269.5 L185.6 269.6 L186.1 269.7 L186.6 269.7 L187.0 269.8 L187.1 269.8 L187.5 269.9 L188.0 269.9 L188.5 270.0 L189.0 270.1 L189.5 270.1 L190.0 270.2 L190.5 270.3 L191.0 270.3 L191.5 270.4 L192.0 270.5 L192.5 270.5 L193.0 270.6 L193.5 270.7 L194.0 270.7 L194.5 270.8 L195.0 270.8 L195.5 270.9 L196.0 270.9 L196.5 271.0 L197.0 271.1 L197.5 271.1 L198.0 271.2 L198.5 271.2 L199.0 271.3 L199.5 271.3 L200.0 271.4 L200.5 271.5 L201.0 271.5 L201.5 271.6 L202.0 271.6 L202.5 271.7 L203.0 271.7 L203.5 271.8 L204.0 271.8 L204.5 271.9 L205.0 271.9 L205.5 272.0 L205.6 272.0 L206.0 272.0 L206.5 272.1 L207.0 272.1 L207.5 272.2 L208.0 272.3 L208.5 272.3 L209.0 272.4 L209.5 272.4 L210.0 272.5 L210.5 272.5 L211.0 272.6 L211.5 272.6 L212.0 272.7 L212.5 272.7 L213.0 272.8 L213.5 272.8 L214.0 272.9 L214.5 272.9 L215.0 273.0 L215.5 273.0 L216.0 273.1 L216.4 273.1 L216.9 273.2 L217.4 273.2 L217.9 273.3 L218.4 273.3 L218.9 273.4 L219.4 273.4 L219.9 273.5 L220.4 273.5 L220.9 273.6 L221.4 273.6 L221.9 273.6 L222.4 273.7 L222.9 273.7 L223.4 273.8 L223.9 273.8 L224.4 273.9 L224.9 273.9 L225.4 274.0 L225.9 274.0 L226.4 274.1 L226.9 274.1 L227.4 274.1 L227.9 274.2 L228.4 274.2 L228.9 274.3 L229.4 274.3 L229.9 274.4 L230.4 274.4" fill="none" stroke="#ff0000" stroke-width="1.60" stroke-linejoin="round" stroke-dasharray="2.9 3.5"/>
<path d="M60.0 284.5 L60.4 284.5 L60.8 284.5 L61.2 284.5 L61.6 284.5 L62.0 284.5 L62.4 284.5 L62.8 284.5 L63.2 284.5 L63.6 284.5 L64.0 284.5 L64.4 284.5 L64.8 284.5 L65.2 284.5 L65.6 284.5 L66.0 284.5 L66.4 284.5 L66.8 284.5 L67.2 284.5 L67.6 284.5 L68.0 284.5 L68.4 284.5 L68.8 284.5 L69.2 284.5 L69.6 284.4 L70.0 284.4 L70.4 284.4 L70.8 284.4 L71.2 284.4 L71.6 284.4 L72.0 284.4 L72.4 284.4 L72.8 284.4 L73.2 284.4 L73.6 284.4 L74.0 284.4 L74.4 284.4 L74.8 284.4 L75.2 284.4 L75.6 284.4 L76.0 284.4 L76.4 284.3 L76.8 284.3 L77.2 284.3 L77.6 284.3 L78.0 284.3 L78.4 284.3 L78.8 284.3 L79.2 284.3 L79.6 284.3 L80.0 284.3 L80.4 284.3 L80.8 284.2 L81.2 284.2 L81.6 284.2 L82.0 284.2 L82.4 284.2 L82.8 284.2 L83.2 284.2 L83.6 284.2 L84.0 284.1 L84.4 284.1 L84.8 284.1 L85.2 284.1 L85.6 284.1 L86.0 284.1 L86.4 284.1 L86.8 284.1 L87.2 284.0 L87.6 284.0 L88.0 284.0 L88.4 284.0 L88.8 284.0 L89.2 284.0 L89.6 283.9 L90.0 283.9 L90.4 283.9 L90.8 283.9 L91.2 283.9 L91.6 283.9 L92.0 283.8 L92.4 283.8 L92.8 283.8 L93.2 283.8 L93.6 283.8 L94.0 283.7 L94.4 283.7 L94.8 283.7 L95.0 283.7 L95.2 283.7 L95.6 283.7 L96.0 283.6 L96.4 283.6 L96.8 283.5 L97.2 283.4 L97.6 283.4 L98.0 283.3 L98.4 283.2 L98.8 283.1 L99.2 283.0 L99.6 282.9 L100.0 282.7 L100.4 282.6 L100.8 282.5 L101.2 282.3 L101.6 282.2 L102.0 282.0 L102.4 281.8 L102.8 281.7 L103.2 281.5 L103.6 281.3 L104.0 281.1 L104.4 280.9 L104.8 280.7 L105.0 280.6 L105.2 280.5 L105.6 280.3 L106.0 280.0 L106.4 279.7 L106.8 279.3 L107.2 279.0 L107.6 278.6 L108.0 278.1 L108.4 277.6 L108.8 277.1 L109.2 276.5 L109.6 275.8 L110.0 275.2 L110.2 274.8 L110.4 274.4 L110.8 273.4 L111.2 272.1 L111.6 270.6 L112.0 268.9 L112.4 267.0 L112.8 265.0 L113.2 262.9 L113.4 261.8 L113.6 260.7 L114.0 258.2 L114.4 255.3 L114.8 252.2 L115.2 248.7 L115.6 245.0 L116.0 240.8 L116.4 235.9 L116.8 230.5 L117.2 224.7 L117.6 218.5 L118.0 227.1 L118.4 234.9 L118.8 241.3 L119.1 245.0 L119.2 245.7 L119.6 249.4 L120.0 252.6 L120.4 255.3 L120.8 257.2 L121.2 258.0 L121.2 258.0 L121.5 257.5 L121.9 255.8 L122.3 253.2 L122.7 250.0 L123.1 246.6 L123.3 245.0 L123.5 242.8 L123.9 237.8 L124.3 231.8 L124.7 224.8 L125.1 217.3 L125.5 229.0 L125.9 239.2 L126.2 245.0 L126.3 246.0 L126.7 250.9 L127.1 255.1 L127.4 258.6 L127.8 261.5 L128.2 263.8 L128.5 265.0 L128.6 265.5 L129.0 266.9 L129.4 268.3 L129.8 269.5 L130.2 270.6 L130.6 271.6 L131.0 272.3 L131.4 272.7 L131.8 272.9 L131.8 272.9 L132.1 272.8 L132.5 272.4 L132.9 271.9 L133.3 271.1 L133.7 270.1 L134.1 269.0 L134.5 267.8 L134.9 266.4 L135.0 266.0 L135.3 264.9 L135.7 262.7 L136.1 259.9 L136.4 256.4 L136.8 252.2 L137.2 247.4 L137.4 245.0 L137.6 241.1 L138.0 231.0 L138.4 219.0 L138.8 229.2 L139.2 238.2 L139.6 245.0 L140.0 250.1 L140.4 254.6 L140.8 258.4 L141.2 261.3 L141.5 263.0 L141.6 263.5 L142.0 265.3 L142.4 267.0 L142.8 268.4 L143.2 269.5 L143.6 270.1 L143.9 270.3 L144.0 270.3 L144.4 269.9 L144.8 269.2 L145.2 268.2 L145.6 267.0 L146.0 265.7 L146.4 264.3 L146.5 264.0 L146.8 263.0 L147.2 261.4 L147.6 259.7 L148.0 257.8 L148.4 255.6 L148.8 253.2 L149.2 250.5 L149.6 247.5 L149.9 245.0 L150.0 244.1 L150.4 239.3 L150.8 233.3 L151.2 226.4 L151.6 219.0 L152.0 226.7 L152.4 233.9 L152.8 240.2 L153.2 244.9 L153.2 245.0 L153.6 248.5 L154.0 251.7 L154.4 254.6 L154.8 257.1 L155.2 259.3 L155.6 261.4 L156.0 263.4 L156.2 264.4 L156.4 265.2 L156.8 267.1 L157.2 268.8 L157.6 270.5 L158.0 272.1 L158.4 273.5 L158.8 274.7 L159.2 275.6 L159.4 276.1 L159.6 276.4 L160.0 277.0 L160.4 277.6 L160.8 278.2 L161.2 278.7 L161.5 279.1 L161.9 279.6 L162.3 280.0 L162.7 280.4 L163.1 280.7 L163.5 281.0 L163.9 281.3 L164.3 281.5 L164.7 281.8 L165.0 281.9 L165.1 282.0 L165.5 282.2 L165.9 282.3 L166.3 282.5 L166.7 282.7 L167.1 282.9 L167.5 283.0 L167.9 283.2 L168.3 283.3 L168.7 283.5 L169.1 283.6 L169.5 283.7 L169.9 283.8 L170.3 283.9 L170.7 284.0 L171.1 284.0 L171.5 284.1 L171.9 284.1 L172.2 284.1 L172.3 284.1 L172.7 284.1 L173.1 284.1 L173.5 284.1 L173.9 284.1 L174.3 284.1 L174.7 284.1 L175.1 284.1 L175.5 284.2 L175.9 284.2 L176.3 284.2 L176.7 284.2 L177.1 284.2 L177.5 284.2 L177.9 284.2 L178.3 284.2 L178.7 284.2 L179.1 284.2 L179.5 284.2 L179.9 284.2 L180.3 284.2 L180.7 284.2 L181.1 284.2 L181.4 284.2 L181.8 284.2 L182.2 284.3 L182.6 284.3 L183.0 284.3 L183.4 284.3 L183.8 284.3 L184.2 284.3 L184.6 284.3 L185.0 284.3 L185.4 284.3 L185.8 284.3 L186.2 284.3 L186.6 284.3 L187.0 284.3 L187.4 284.3 L187.8 284.3 L188.2 284.3 L188.6 284.3 L189.0 284.3 L189.4 284.3 L189.8 284.3 L190.2 284.3 L190.6 284.3 L191.0 284.4 L191.4 284.4 L191.8 284.4 L192.2 284.4 L192.6 284.4 L193.0 284.4 L193.4 284.4 L193.8 284.4 L194.2 284.4 L194.6 284.4 L195.0 284.4 L195.4 284.4 L195.8 284.4 L196.2 284.4 L196.6 284.4 L197.0 284.4 L197.4 284.4 L197.8 284.4 L198.2 284.4 L198.6 284.4 L199.0 284.4 L199.4 284.4 L199.8 284.4 L200.2 284.4 L200.6 284.4 L200.9 284.4 L201.3 284.4 L201.7 284.4 L202.1 284.4 L202.5 284.4 L202.9 284.4 L203.3 284.4 L203.7 284.4 L204.1 284.4 L204.5 284.4 L204.9 284.4 L205.3 284.5 L205.7 284.5 L206.1 284.5 L206.5 284.5 L206.9 284.5 L207.3 284.5 L207.7 284.5 L208.1 284.5 L208.5 284.5 L208.9 284.5 L209.3 284.5 L209.7 284.5 L210.1 284.5 L210.5 284.5 L210.9 284.5 L211.3 284.5 L211.7 284.5 L212.1 284.5 L212.5 284.5 L212.9 284.5 L213.3 284.5 L213.7 284.5 L214.1 284.5 L214.5 284.5 L214.9 284.5 L215.3 284.5 L215.7 284.5 L216.1 284.5 L216.5 284.5 L216.9 284.5 L217.3 284.5 L217.7 284.5 L218.1 284.5 L218.5 284.5 L218.9 284.5 L219.3 284.5 L219.7 284.5 L220.1 284.5 L220.5 284.5 L220.8 284.5 L221.2 284.5 L221.6 284.5 L222.0 284.5 L222.4 284.5 L222.8 284.5 L223.2 284.5 L223.6 284.5 L224.0 284.5 L224.4 284.5 L224.8 284.5 L225.2 284.5 L225.6 284.5 L226.0 284.5 L226.4 284.5 L226.8 284.5 L227.2 284.5 L227.6 284.5 L228.0 284.5 L228.4 284.5 L228.8 284.5 L229.2 284.5 L229.6 284.5 L230.0 284.5 L230.4 284.5" fill="none" stroke="#0000ff" stroke-width="1.70" stroke-linejoin="round"/>
<path d="M60.0 284.5 L60.4 284.5 L60.8 284.5 L61.2 284.5 L61.6 284.5 L62.0 284.5 L62.4 284.5 L62.8 284.5 L63.2 284.5 L63.6 284.5 L64.0 284.5 L64.4 284.5 L64.8 284.5 L65.2 284.5 L65.6 284.5 L66.0 284.5 L66.4 284.5 L66.8 284.5 L67.2 284.5 L67.6 284.5 L68.0 284.5 L68.4 284.5 L68.8 284.5 L69.2 284.5 L69.6 284.4 L70.0 284.4 L70.4 284.4 L70.8 284.4 L71.2 284.4 L71.6 284.4 L72.0 284.4 L72.4 284.4 L72.8 284.4 L73.2 284.4 L73.6 284.4 L74.0 284.4 L74.4 284.4 L74.7 284.4 L75.1 284.4 L75.5 284.4 L75.9 284.3 L76.3 284.3 L76.7 284.3 L77.1 284.3 L77.5 284.3 L77.9 284.3 L78.3 284.3 L78.7 284.3 L79.1 284.3 L79.5 284.3 L79.9 284.2 L80.3 284.2 L80.7 284.2 L81.1 284.2 L81.5 284.2 L81.9 284.2 L82.3 284.2 L82.7 284.2 L83.1 284.2 L83.5 284.1 L83.9 284.1 L84.3 284.1 L84.7 284.1 L85.1 284.1 L85.5 284.1 L85.9 284.1 L86.3 284.0 L86.7 284.0 L87.1 284.0 L87.5 284.0 L87.9 284.0 L88.3 284.0 L88.7 283.9 L89.1 283.9 L89.5 283.9 L89.9 283.9 L90.3 283.9 L90.7 283.9 L91.1 283.8 L91.5 283.8 L91.9 283.8 L92.3 283.8 L92.7 283.8 L93.1 283.7 L93.5 283.7 L93.9 283.7 L94.0 283.7 L94.3 283.7 L94.7 283.7 L95.1 283.6 L95.5 283.6 L95.9 283.5 L96.3 283.4 L96.7 283.3 L97.1 283.3 L97.5 283.2 L97.9 283.1 L98.3 282.9 L98.7 282.8 L99.1 282.7 L99.5 282.6 L99.9 282.4 L100.3 282.3 L100.7 282.1 L101.1 282.0 L101.5 281.8 L101.9 281.6 L102.3 281.4 L102.7 281.3 L103.1 281.1 L103.4 280.9 L103.8 280.7 L104.0 280.6 L104.2 280.5 L104.6 280.2 L105.0 280.0 L105.4 279.7 L105.8 279.4 L106.2 279.1 L106.6 278.7 L107.0 278.3 L107.4 277.8 L107.8 277.3 L108.2 276.8 L108.6 276.2 L109.0 275.6 L109.4 274.9 L109.5 274.8 L109.8 274.1 L110.2 273.0 L110.6 271.7 L111.0 270.1 L111.4 268.4 L111.8 266.4 L112.2 264.4 L112.6 262.3 L112.7 261.8 L113.0 259.8 L113.4 256.9 L113.8 253.6 L114.2 250.1 L114.6 246.6 L114.8 245.0 L115.0 243.3 L115.4 240.0 L115.8 236.6 L116.2 233.3 L116.6 229.9 L117.0 226.4 L117.4 223.0 L117.8 219.5 L118.2 224.6 L118.6 229.3 L118.9 233.6 L119.3 237.3 L119.7 240.5 L119.9 242.0 L120.1 243.2 L120.5 245.8 L120.8 248.1 L121.2 249.6 L121.5 250.0 L121.6 250.0 L122.0 249.3 L122.3 247.9 L122.7 245.9 L123.1 243.6 L123.2 243.0 L123.5 240.8 L123.9 236.6 L124.2 231.2 L124.6 224.9 L125.0 218.0 L125.4 228.5 L125.8 237.8 L126.2 244.8 L126.2 245.0 L126.6 249.7 L127.0 254.0 L127.4 257.8 L127.8 260.9 L128.2 263.4 L128.5 265.0 L128.5 265.2 L128.9 266.7 L129.3 268.1 L129.7 269.4 L130.1 270.5 L130.5 271.4 L130.9 272.2 L131.3 272.7 L131.7 272.9 L131.8 272.9 L132.1 272.8 L132.5 272.5 L132.9 271.9 L133.3 271.2 L133.7 270.2 L134.1 269.1 L134.5 267.9 L134.9 266.5 L135.0 266.0 L135.2 265.0 L135.6 262.8 L136.0 260.0 L136.4 256.5 L136.8 252.3 L137.2 247.5 L137.4 245.0 L137.6 241.3 L138.0 231.3 L138.4 219.5 L138.8 227.7 L139.2 235.2 L139.6 242.0 L139.8 245.0 L140.0 247.8 L140.4 252.8 L140.8 257.4 L141.2 262.0 L141.2 262.0 L141.6 267.4 L142.0 271.4 L142.4 273.3 L142.8 274.8 L143.2 276.0 L143.6 276.9 L143.9 277.4 L144.0 277.6 L144.4 278.2 L144.8 278.8 L145.2 279.3 L145.6 279.8 L146.0 280.2 L146.4 280.6 L146.8 280.9 L147.2 281.2 L147.6 281.4 L147.9 281.6 L148.0 281.6 L148.4 281.8 L148.8 282.0 L149.2 282.2 L149.6 282.3 L150.0 282.5 L150.4 282.6 L150.8 282.7 L151.2 282.9 L151.6 283.0 L152.0 283.1 L152.4 283.2 L152.8 283.3 L153.2 283.4 L153.6 283.4 L154.0 283.5 L154.4 283.6 L154.8 283.7 L155.2 283.7 L155.6 283.8 L155.8 283.8 L156.0 283.8 L156.4 283.9 L156.8 283.9 L157.2 284.0 L157.6 284.0 L158.0 284.1 L158.4 284.1 L158.8 284.2 L159.2 284.2 L159.6 284.2 L160.0 284.3 L160.4 284.3 L160.8 284.3 L161.2 284.4 L161.6 284.4 L162.0 284.4 L162.4 284.4 L162.8 284.4 L163.2 284.4 L163.6 284.4 L164.0 284.4 L164.4 284.4 L164.8 284.4 L165.2 284.4 L165.6 284.4 L166.0 284.4 L166.4 284.4 L166.8 284.4 L167.2 284.4 L167.6 284.4 L168.0 284.4 L168.4 284.4 L168.8 284.4 L169.2 284.4 L169.6 284.4 L170.0 284.4 L170.4 284.4 L170.8 284.4 L171.2 284.4 L171.6 284.4 L172.0 284.4 L172.4 284.4 L172.8 284.4 L173.2 284.4 L173.6 284.4 L174.0 284.4 L174.4 284.4 L174.8 284.4 L175.2 284.4 L175.6 284.4 L176.0 284.4 L176.4 284.4 L176.8 284.4 L177.2 284.4 L177.6 284.4 L178.0 284.4 L178.4 284.4 L178.8 284.5 L179.2 284.5 L179.6 284.5 L180.0 284.5 L180.4 284.5 L180.8 284.5 L181.2 284.5 L181.6 284.5 L182.0 284.5 L182.4 284.5 L182.8 284.5 L183.2 284.5 L183.6 284.5 L184.0 284.5 L184.4 284.5 L184.8 284.5 L185.2 284.5 L185.6 284.5 L186.0 284.5 L186.4 284.5 L186.8 284.5 L187.2 284.5 L187.6 284.5 L188.0 284.5 L188.4 284.5 L188.8 284.5 L189.2 284.5 L189.6 284.5 L190.0 284.5 L190.4 284.5 L190.8 284.5 L191.2 284.5 L191.6 284.5 L192.0 284.5 L192.4 284.5 L192.8 284.5 L193.2 284.5 L193.6 284.5 L194.0 284.5 L194.4 284.5 L194.8 284.5 L195.2 284.5 L195.6 284.5 L196.0 284.5 L196.4 284.5 L196.8 284.5 L197.2 284.5 L197.6 284.5 L198.0 284.5 L198.4 284.5 L198.8 284.5 L199.2 284.5 L199.6 284.5 L200.0 284.5 L200.4 284.5 L200.8 284.5 L201.2 284.5 L201.6 284.5 L202.0 284.5 L202.4 284.5 L202.8 284.5 L203.2 284.5 L203.6 284.5 L204.0 284.5 L204.4 284.5 L204.8 284.5 L205.2 284.5 L205.6 284.5 L206.0 284.5 L206.4 284.5 L206.8 284.5 L207.2 284.5 L207.6 284.5 L208.0 284.5 L208.4 284.5 L208.8 284.5 L209.2 284.5 L209.6 284.5 L210.0 284.5 L210.4 284.5 L210.8 284.5 L211.2 284.5 L211.6 284.5 L212.0 284.5 L212.4 284.5 L212.8 284.5 L213.2 284.5 L213.6 284.5 L214.0 284.5 L214.4 284.5 L214.8 284.5 L215.2 284.5 L215.6 284.5 L216.0 284.5 L216.4 284.5 L216.8 284.5 L217.2 284.5 L217.6 284.5 L218.0 284.5 L218.4 284.5 L218.8 284.5 L219.2 284.5 L219.6 284.5 L220.0 284.5 L220.4 284.5 L220.8 284.5 L221.2 284.5 L221.6 284.5 L222.0 284.5 L222.4 284.5 L222.8 284.5 L223.2 284.5 L223.6 284.5 L224.0 284.5 L224.4 284.5 L224.8 284.5 L225.2 284.5 L225.6 284.5 L226.0 284.5 L226.4 284.5 L226.8 284.5 L227.2 284.5 L227.6 284.5 L228.0 284.5 L228.4 284.5 L228.8 284.5 L229.2 284.5 L229.6 284.5 L230.0 284.5 L230.4 284.5" fill="none" stroke="#0000ff" stroke-width="1.70" stroke-linejoin="round" stroke-dasharray="3.6 3.7"/>
<path d="M60.0 222.8 L62.0 223.4 L64.0 224.1 L65.9 224.9 L67.9 225.7 L69.9 226.5 L71.9 227.4 L73.9 228.2 L75.9 229.0 L77.8 229.8 L79.8 230.5 L81.8 231.1 L83.8 231.7 L85.8 232.3 L87.7 232.7 L89.7 233.1 L91.7 233.4 L93.7 233.6 L95.7 233.7 L97.6 233.8 L99.6 233.7 L101.6 233.6 L103.6 233.4 L105.6 233.1 L107.6 232.8 L109.5 232.3 L111.5 231.8 L113.5 231.3 L115.5 230.7 L117.5 230.0 L119.4 229.3 L121.4 228.5 L123.4 227.8 L125.4 226.9 L127.4 226.1 L129.3 225.3 L131.3 224.4 L133.3 223.5 L135.3 222.7 L137.3 221.8 L139.3 221.0 L141.2 220.2 L143.2 219.5 L145.2 218.7 L147.2 218.0 L149.2 217.4 L151.1 216.8 L153.1 216.2 L155.1 215.8 L157.1 215.4 L159.1 215.0 L161.1 214.7 L163.0 214.5 L165.0 214.4 L167.0 214.4 L169.0 214.4 L171.0 214.5 L172.9 214.8 L174.9 215.1 L176.9 215.4 L178.9 215.9 L180.9 216.5 L182.8 217.1 L184.8 217.8 L186.8 218.6 L188.8 219.5 L190.8 220.5 L192.8 221.5 L194.7 222.6 L196.7 223.7 L198.7 225.0 L200.7 226.3 L202.7 227.6 L204.6 229.0 L206.6 230.4 L208.6 231.9 L210.6 233.4 L212.6 234.9 L214.5 236.5 L216.5 238.1 L218.5 239.6 L220.5 241.2 L222.5 242.8 L224.5 244.4 L226.4 245.9 L228.4 247.4 L230.4 248.9" fill="none" stroke="#00a000" stroke-width="1.50" stroke-linejoin="round"/>
<path d="M60.0 216.9 L62.0 217.9 L64.0 218.9 L65.9 220.0 L67.9 221.1 L69.9 222.2 L71.9 223.3 L73.9 224.4 L75.9 225.4 L77.8 226.4 L79.8 227.3 L81.8 228.2 L83.8 229.0 L85.8 229.8 L87.7 230.5 L89.7 231.1 L91.7 231.7 L93.7 232.2 L95.7 232.6 L97.6 232.9 L99.6 233.2 L101.6 233.3 L103.6 233.4 L105.6 233.5 L107.6 233.4 L109.5 233.3 L111.5 233.2 L113.5 232.9 L115.5 232.6 L117.5 232.3 L119.4 231.9 L121.4 231.5 L123.4 231.0 L125.4 230.5 L127.4 229.9 L129.3 229.4 L131.3 228.8 L133.3 228.2 L135.3 227.6 L137.3 227.0 L139.3 226.4 L141.2 225.8 L143.2 225.2 L145.2 224.7 L147.2 224.1 L149.2 223.6 L151.1 223.2 L153.1 222.7 L155.1 222.3 L157.1 222.0 L159.1 221.7 L161.1 221.5 L163.0 221.3 L165.0 221.2 L167.0 221.1 L169.0 221.2 L171.0 221.2 L172.9 221.4 L174.9 221.6 L176.9 222.0 L178.9 222.3 L180.9 222.8 L182.8 223.3 L184.8 223.9 L186.8 224.6 L188.8 225.4 L190.8 226.2 L192.8 227.1 L194.7 228.0 L196.7 229.0 L198.7 230.1 L200.7 231.2 L202.7 232.3 L204.6 233.5 L206.6 234.7 L208.6 235.9 L210.6 237.2 L212.6 238.4 L214.5 239.7 L216.5 240.9 L218.5 242.1 L220.5 243.3 L222.5 244.4 L224.5 245.5 L226.4 246.5 L228.4 247.4 L230.4 248.2" fill="none" stroke="#00a000" stroke-width="1.50" stroke-linejoin="round" stroke-dasharray="2.9 3.5"/>
<defs><linearGradient id="bk" gradientUnits="userSpaceOnUse" x1="343" y1="0" x2="353" y2="0"><stop offset="0" stop-color="#000"/><stop offset="1" stop-color="#5a5a5a"/></linearGradient></defs>
<path d="M281.4 273.3 L281.9 273.2 L282.4 273.2 L282.9 273.2 L283.4 273.1 L283.9 273.1 L284.4 273.1 L284.9 273.1 L285.4 273.0 L285.9 273.0 L286.4 273.0 L286.9 272.9 L287.4 272.9 L287.9 272.8 L288.4 272.8 L288.9 272.8 L289.4 272.7 L289.9 272.7 L290.4 272.6 L290.9 272.6 L291.4 272.5 L291.9 272.5 L292.4 272.4 L292.9 272.4 L293.4 272.3 L293.9 272.3 L294.4 272.2 L294.8 272.1 L295.3 272.1 L295.8 272.0 L296.3 271.9 L296.8 271.9 L297.3 271.8 L297.8 271.7 L298.3 271.6 L298.8 271.5 L299.3 271.5 L299.8 271.4 L300.3 271.3 L300.8 271.2 L301.3 271.1 L301.8 270.9 L302.3 270.8 L302.8 270.7 L303.3 270.6 L303.8 270.4 L304.3 270.3 L304.8 270.2 L305.3 270.0 L305.8 269.8 L306.3 269.7 L306.8 269.5 L307.3 269.3 L307.8 269.1 L308.3 268.9 L308.8 268.7 L309.3 268.4 L309.8 268.2 L310.3 267.9 L310.8 267.6 L311.3 267.3 L311.8 267.0 L312.3 266.7 L312.8 266.4 L313.3 266.0 L313.8 265.6 L314.3 265.2 L314.8 264.7 L315.3 264.2 L315.8 263.7 L316.3 263.2 L316.8 262.6 L317.3 262.0 L317.8 261.3 L318.3 260.6 L318.8 259.9 L319.3 259.0 L319.8 258.2 L320.3 257.2 L320.8 256.2 L321.3 255.2 L321.8 254.0 L322.2 252.8 L322.7 251.5 L323.2 250.1 L323.7 248.5 L324.2 246.9 L324.7 245.2 L325.2 243.4 L325.7 241.4 L326.2 239.4 L326.7 237.2 L327.2 234.9 L327.7 232.6 L328.2 230.1 L328.7 227.5 L329.2 224.8 L329.7 222.0 L330.2 219.0 L330.7 216.0 L331.2 212.8 L331.7 209.4 L332.2 205.8 L332.7 201.7 L333.2 197.1 L333.7 191.9 L334.2 186.4 L334.7 181.2 L335.2 178.5 L335.7 180.5 L336.2 184.0 L336.7 188.1 L337.2 192.4 L337.7 196.8 L338.2 201.1 L338.7 205.2 L339.2 209.2 L339.7 212.9 L340.2 216.3 L340.7 219.5 L341.2 222.6 L341.7 225.4 L342.2 228.0 L342.7 230.4 L343.2 232.7 L343.7 234.9 L344.2 236.9 L344.7 238.9 L345.2 240.7 L345.7 242.4 L346.2 244.1 L346.7 245.7 L347.2 247.2 L347.7 248.6 L348.2 250.0 L348.7 251.3 L349.2 252.5 L349.7 253.7 L350.2 254.9 L350.7 256.0 L351.2 257.0 L351.7 258.0 L352.2 258.9 L352.7 259.8 L353.2 260.6 L353.7 261.4 L354.2 262.1 L354.7 262.8 L355.2 263.4 L355.7 264.1 L356.2 264.6 L356.7 265.2 L357.2 265.7 L357.7 266.2 L358.2 266.7 L358.7 267.1 L359.2 267.6 L359.7 267.9 L360.2 268.3 L360.7 268.7 L361.2 269.0 L361.7 269.4 L362.2 269.7 L362.7 270.0 L363.2 270.2 L363.7 270.5 L364.2 270.8 L364.6 271.0 L365.1 271.2 L365.6 271.5 L366.1 271.7 L366.6 271.9 L367.1 272.1 L367.6 272.3 L368.1 272.4 L368.6 272.6 L369.1 272.8 L369.6 273.0 L370.1 273.1 L370.6 273.3 L371.1 273.4 L371.6 273.5 L372.1 273.7 L372.6 273.8 L373.1 273.9 L373.6 274.1 L374.1 274.2 L374.6 274.3 L375.1 274.4 L375.6 274.5 L376.1 274.6 L376.6 274.7 L377.1 274.8 L377.6 274.9 L378.1 275.0 L378.6 275.1 L379.1 275.2 L379.6 275.3 L380.1 275.3 L380.6 275.4 L381.1 275.5 L381.6 275.6 L382.1 275.6 L382.6 275.7 L383.1 275.8 L383.6 275.9 L384.1 275.9 L384.6 276.0 L385.1 276.0 L385.6 276.1 L386.1 276.2 L386.6 276.2 L387.1 276.3 L387.6 276.3 L388.1 276.4 L388.6 276.4 L389.1 276.5 L389.6 276.5 L390.1 276.6 L390.6 276.6 L391.1 276.7 L391.6 276.7 L392.1 276.8 L392.6 276.8 L393.1 276.9 L393.6 276.9 L394.1 277.0 L394.6 277.0 L395.1 277.0 L395.6 277.1 L396.1 277.1 L396.6 277.1 L397.1 277.2 L397.6 277.2 L398.1 277.3 L398.6 277.3 L399.1 277.3 L399.6 277.4 L400.1 277.4 L400.6 277.4 L401.1 277.5 L401.6 277.5 L402.1 277.5 L402.6 277.5 L403.1 277.6 L403.6 277.6 L404.1 277.6 L404.6 277.7 L405.1 277.7 L405.6 277.7 L406.1 277.7 L406.6 277.8 L407.1 277.8 L407.6 277.8 L408.1 277.8 L408.6 277.9 L409.1 277.9 L409.6 277.9 L410.1 277.9 L410.6 278.0 L411.1 278.0 L411.6 278.0 L412.1 278.0 L412.6 278.0 L413.1 278.1 L413.6 278.1 L414.1 278.1 L414.6 278.1 L415.1 278.1 L415.6 278.2 L416.1 278.2 L416.6 278.2 L417.1 278.2 L417.6 278.2 L418.1 278.3 L418.6 278.3 L419.1 278.3 L419.6 278.3 L420.1 278.3 L420.6 278.3 L421.1 278.4 L421.6 278.4 L422.1 278.4 L422.5 278.4 L423.0 278.4 L423.5 278.4 L424.0 278.4 L424.5 278.5 L425.0 278.5 L425.5 278.5 L426.0 278.5 L426.5 278.5 L427.0 278.5 L427.5 278.5 L428.0 278.6 L428.5 278.6 L429.0 278.6 L429.5 278.6 L430.0 278.6 L430.5 278.6 L431.0 278.6 L431.5 278.6 L432.0 278.7 L432.5 278.7 L433.0 278.7 L433.5 278.7 L434.0 278.7 L434.5 278.7 L435.0 278.7 L435.5 278.7 L436.0 278.8 L436.5 278.8 L437.0 278.8 L437.5 278.8 L438.0 278.8 L438.5 278.8 L439.0 278.8 L439.5 278.8 L440.0 278.8 L440.5 278.8 L441.0 278.9 L441.5 278.9 L442.0 278.9 L442.5 278.9 L443.0 278.9 L443.5 278.9 L444.0 278.9 L444.5 278.9 L445.0 278.9 L445.5 278.9 L446.0 278.9 L446.5 279.0 L447.0 279.0 L447.5 279.0 L448.0 279.0 L448.5 279.0 L449.0 279.0 L449.5 279.0 L450.0 279.0 L450.5 279.0 L451.0 279.0 L451.5 279.0" fill="none" stroke="#ff0000" stroke-width="1.60" stroke-linejoin="round"/>
<path d="M281.4 270.7 L281.9 270.6 L282.4 270.6 L282.9 270.5 L283.4 270.4 L283.9 270.3 L284.4 270.2 L284.9 270.0 L285.4 269.9 L285.9 269.8 L286.4 269.7 L286.9 269.6 L287.4 269.5 L287.9 269.3 L288.4 269.2 L288.9 269.1 L289.4 268.9 L289.9 268.8 L290.4 268.6 L290.9 268.5 L291.4 268.3 L291.9 268.2 L292.4 268.0 L292.9 267.8 L293.4 267.6 L293.9 267.4 L294.4 267.3 L294.8 267.1 L295.3 266.9 L295.8 266.6 L296.3 266.4 L296.8 266.2 L297.3 266.0 L297.8 265.7 L298.3 265.5 L298.8 265.2 L299.3 264.9 L299.8 264.7 L300.3 264.4 L300.8 264.1 L301.3 263.8 L301.8 263.5 L302.3 263.1 L302.8 262.8 L303.3 262.4 L303.8 262.1 L304.3 261.7 L304.8 261.3 L305.3 260.9 L305.8 260.4 L306.3 260.0 L306.8 259.5 L307.3 259.0 L307.8 258.6 L308.3 258.0 L308.8 257.5 L309.3 256.9 L309.8 256.4 L310.3 255.8 L310.8 255.1 L311.3 254.5 L311.8 253.8 L312.3 253.1 L312.8 252.4 L313.3 251.7 L313.8 250.9 L314.3 250.1 L314.8 249.2 L315.3 248.4 L315.8 247.5 L316.3 246.6 L316.8 245.6 L317.3 244.6 L317.8 243.6 L318.3 242.6 L318.8 241.5 L319.3 240.4 L319.8 239.2 L320.3 238.1 L320.8 236.9 L321.2 235.6 L321.7 234.3 L322.2 233.0 L322.7 231.7 L323.2 230.3 L323.7 228.9 L324.2 227.5 L324.7 226.0 L325.2 224.5 L325.7 222.9 L326.2 221.3 L326.7 219.6 L327.2 217.9 L327.7 216.2 L328.2 214.4 L328.7 212.6 L329.2 210.7 L329.7 208.7 L330.2 206.7 L330.7 204.7 L331.2 202.6 L331.7 200.5 L332.2 198.5 L332.7 196.5 L333.2 194.8 L333.7 193.3 L334.2 192.4 L334.7 194.0 L335.2 196.2 L335.7 198.5 L336.2 200.9 L336.7 203.2 L337.2 205.5 L337.7 207.8 L338.2 209.9 L338.7 212.0 L339.2 214.0 L339.7 215.9 L340.2 217.7 L340.7 219.4 L341.2 221.0 L341.7 222.6 L342.2 224.1 L342.7 225.5 L343.2 226.9 L343.7 228.3 L344.2 229.6 L344.7 230.8 L345.2 232.0 L345.7 233.2 L346.2 234.3 L346.7 235.3 L347.2 236.3 L347.7 237.3 L348.2 238.3 L348.7 239.3 L349.2 240.4 L349.7 241.4 L350.2 242.4 L350.7 243.4 L351.2 244.4 L351.7 245.4 L352.2 246.4 L352.7 247.4 L353.2 248.3 L353.7 249.2 L354.2 250.1 L354.7 251.0 L355.2 251.9 L355.7 252.7 L356.2 253.5 L356.7 254.2 L357.2 255.0 L357.7 255.7 L358.2 256.4 L358.7 257.0 L359.2 257.7 L359.7 258.3 L360.2 258.8 L360.7 259.4 L361.2 259.9 L361.7 260.4 L362.2 260.9 L362.7 261.4 L363.2 261.8 L363.6 262.2 L364.1 262.6 L364.6 263.0 L365.1 263.4 L365.6 263.8 L366.1 264.1 L366.6 264.4 L367.1 264.8 L367.6 265.1 L368.1 265.4 L368.6 265.7 L369.1 266.0 L369.6 266.3 L370.1 266.5 L370.6 266.8 L371.1 267.0 L371.6 267.3" fill="none" stroke="#909090" stroke-width="1.60" stroke-linejoin="round"/>
<path d="M365.6 263.7 L366.1 264.1 L366.6 264.4 L367.1 264.8 L367.6 265.1 L368.1 265.4 L368.6 265.7 L369.1 266.0 L369.6 266.3 L370.1 266.5 L370.6 266.8 L371.1 267.0 L371.6 267.3 L372.1 267.5 L372.6 267.7 L373.1 268.0 L373.6 268.2 L374.1 268.4 L374.6 268.6 L375.1 268.8 L375.6 269.0 L376.1 269.2 L376.6 269.4 L377.1 269.5 L377.6 269.7 L378.1 269.9 L378.6 270.0 L379.1 270.2 L379.6 270.4 L380.1 270.5 L380.6 270.7 L381.1 270.8 L381.6 270.9 L382.1 271.1 L382.6 271.2 L383.1 271.3 L383.6 271.5 L384.1 271.6 L384.6 271.7 L385.1 271.8 L385.6 272.0 L386.1 272.1 L386.6 272.2 L387.1 272.3 L387.6 272.4 L388.1 272.5 L388.6 272.6 L389.1 272.7 L389.6 272.8 L390.1 272.9 L390.6 273.0 L391.1 273.1 L391.6 273.2 L392.1 273.3 L392.6 273.4 L393.1 273.4 L393.6 273.5 L394.1 273.6 L394.6 273.7 L395.1 273.8 L395.6 273.8 L396.1 273.9 L396.6 274.0 L397.1 274.1 L397.6 274.1 L398.1 274.2 L398.6 274.3 L399.1 274.3 L399.6 274.4 L400.1 274.5 L400.6 274.5 L401.1 274.6 L401.6 274.7 L402.1 274.7 L402.6 274.8 L403.1 274.9 L403.6 274.9 L404.1 275.0 L404.6 275.0 L405.1 275.1 L405.6 275.1 L406.1 275.2 L406.6 275.2 L407.1 275.3 L407.6 275.4 L408.1 275.4 L408.6 275.5 L409.1 275.5 L409.6 275.6 L410.1 275.6 L410.6 275.7 L411.1 275.7 L411.6 275.7 L412.1 275.8 L412.6 275.8 L413.1 275.9 L413.6 275.9 L414.1 276.0 L414.6 276.0 L415.1 276.1 L415.6 276.1 L416.1 276.1 L416.6 276.2 L417.1 276.2 L417.6 276.3 L418.1 276.3 L418.6 276.3 L419.1 276.4 L419.6 276.4 L420.1 276.4 L420.6 276.5 L421.1 276.5 L421.6 276.6 L422.1 276.6 L422.5 276.6 L423.0 276.7 L423.5 276.7 L424.0 276.7 L424.5 276.8 L425.0 276.8 L425.5 276.8 L426.0 276.9 L426.5 276.9 L427.0 276.9 L427.5 276.9 L428.0 277.0 L428.5 277.0 L429.0 277.0 L429.5 277.1 L430.0 277.1 L430.5 277.1 L431.0 277.2 L431.5 277.2 L432.0 277.2 L432.5 277.2 L433.0 277.3 L433.5 277.3 L434.0 277.3 L434.5 277.3 L435.0 277.4 L435.5 277.4 L436.0 277.4 L436.5 277.4 L437.0 277.5 L437.5 277.5 L438.0 277.5 L438.5 277.5 L439.0 277.6 L439.5 277.6 L440.0 277.6 L440.5 277.6 L441.0 277.7 L441.5 277.7 L442.0 277.7 L442.5 277.7 L443.0 277.8 L443.5 277.8 L444.0 277.8 L444.5 277.8 L445.0 277.8 L445.5 277.9 L446.0 277.9 L446.5 277.9 L447.0 277.9 L447.5 277.9 L448.0 278.0 L448.5 278.0 L449.0 278.0 L449.5 278.0 L450.0 278.0 L450.5 278.1 L451.0 278.1 L451.5 278.1" fill="none" stroke="#5a5a5a" stroke-width="1.60" stroke-linejoin="round"/>
<path d="M281.4 270.6 L281.9 270.5 L282.4 270.4 L282.9 270.3 L283.4 270.2 L283.9 270.1 L284.4 270.0 L284.9 269.9 L285.4 269.8 L285.9 269.7 L286.4 269.6 L286.9 269.4 L287.4 269.3 L287.9 269.2 L288.4 269.0 L288.9 268.9 L289.4 268.8 L289.9 268.6 L290.4 268.5 L290.9 268.3 L291.4 268.2 L291.9 268.0 L292.4 267.8 L292.9 267.6 L293.4 267.5 L293.9 267.3 L294.4 267.1 L294.9 266.9 L295.4 266.6 L295.9 266.4 L296.4 266.2 L296.9 266.0 L297.4 265.7 L297.9 265.5 L298.4 265.2 L298.9 264.9 L299.4 264.6 L299.9 264.3 L300.4 264.0 L300.9 263.7 L301.4 263.4 L301.9 263.0 L302.4 262.7 L302.9 262.3 L303.4 261.9 L303.9 261.5 L304.4 261.0 L304.9 260.6 L305.4 260.1 L305.8 259.6 L306.3 259.1 L306.8 258.6 L307.3 258.0 L307.8 257.4 L308.3 256.8 L308.8 256.1 L309.3 255.4 L309.8 254.7 L310.3 253.9 L310.8 253.1 L311.3 252.3 L311.8 251.4 L312.3 250.5 L312.8 249.5 L313.3 248.5 L313.8 247.4 L314.3 246.2 L314.8 245.0 L315.3 243.8 L315.8 242.4 L316.3 241.0 L316.8 239.5 L317.3 238.0 L317.8 236.3 L318.3 234.6 L318.8 232.8 L319.3 230.9 L319.8 228.9 L320.3 226.9 L320.8 224.7 L321.3 222.5 L321.8 220.1 L322.3 217.7 L322.8 215.2 L323.3 212.7 L323.8 210.1 L324.3 207.4 L324.8 204.6 L325.3 201.8 L325.8 198.9 L326.3 196.0 L326.8 193.0 L327.3 189.9 L327.8 186.6 L328.3 183.1 L328.8 179.5 L329.3 176.0 L329.7 176.6 L330.1 177.2 L330.4 177.9 L330.5 178.0 L330.8 178.7 L331.2 179.6 L331.6 180.6 L332.0 181.6 L332.4 182.6 L332.7 183.6 L333.1 184.4 L333.5 185.0 L333.9 185.4 L334.2 185.5 L334.3 185.5 L334.7 185.2 L335.0 184.5 L335.4 183.6 L335.8 182.6 L336.2 181.5 L336.6 180.6 L336.6 180.5 L337.0 179.7 L337.3 178.8 L337.7 177.9 L338.1 176.9 L338.6 179.1 L339.1 183.3 L339.6 188.3 L340.1 193.5 L340.6 198.6 L341.1 203.5 L341.6 208.0 L342.1 212.1 L342.6 215.8 L343.1 219.2 L343.6 222.4 L344.1 225.2 L344.6 227.9 L345.1 230.3 L345.6 232.6 L346.1 234.7 L346.6 236.6 L347.1 238.5 L347.6 240.2 L348.1 241.8 L348.6 243.3 L349.1 244.7 L349.6 246.1 L350.1 247.3 L350.6 248.5 L351.1 249.7 L351.6 250.8 L352.1 251.8 L352.6 252.8 L353.1 253.7 L353.6 254.6 L354.1 255.4 L354.6 256.3 L355.1 257.0 L355.6 257.8 L356.1 258.5 L356.6 259.1 L357.1 259.8 L357.6 260.4 L358.1 261.0 L358.6 261.5 L359.1 262.1 L359.6 262.6 L360.1 263.1 L360.6 263.5 L361.1 264.0 L361.6 264.4 L362.1 264.8 L362.6 265.2 L363.1 265.6 L363.6 266.0 L364.1 266.4 L364.6 266.7 L365.1 267.0 L365.6 267.4 L366.1 267.7 L366.6 268.0 L367.1 268.3 L367.6 268.5 L368.1 268.8 L368.6 269.1 L369.1 269.3 L369.6 269.5 L370.1 269.8 L370.6 270.0 L371.1 270.2 L371.6 270.4 L372.1 270.6 L372.6 270.8 L373.1 271.0 L373.6 271.2 L374.1 271.4 L374.6 271.6 L375.1 271.7 L375.6 271.9 L376.1 272.1 L376.6 272.2 L377.1 272.4 L377.6 272.5 L378.1 272.6 L378.6 272.8 L379.1 272.9 L379.6 273.0 L380.1 273.2 L380.6 273.3 L381.1 273.4 L381.6 273.5 L382.1 273.6 L382.6 273.8 L383.1 273.9 L383.6 274.0 L384.1 274.1 L384.6 274.2 L385.1 274.3 L385.6 274.4 L386.1 274.4 L386.6 274.5 L387.1 274.6 L387.6 274.7 L388.1 274.8 L388.6 274.9 L389.1 274.9 L389.6 275.0 L390.1 275.1 L390.6 275.2 L391.1 275.2 L391.6 275.3 L392.1 275.4 L392.6 275.5 L393.1 275.5 L393.6 275.6 L394.1 275.6 L394.6 275.7 L395.0 275.8 L395.5 275.8 L396.0 275.9 L396.5 275.9 L397.0 276.0 L397.5 276.0 L398.0 276.1 L398.5 276.2 L399.0 276.2 L399.5 276.3 L400.0 276.3 L400.5 276.4 L401.0 276.4 L401.5 276.4 L402.0 276.5 L402.5 276.5 L403.0 276.6 L403.5 276.6 L404.0 276.7 L404.5 276.7 L405.0 276.7 L405.5 276.8 L406.0 276.8 L406.5 276.9 L407.0 276.9 L407.5 276.9 L408.0 277.0 L408.5 277.0 L409.0 277.0 L409.5 277.1 L410.0 277.1 L410.5 277.1 L411.0 277.2 L411.5 277.2 L412.0 277.2 L412.5 277.3 L413.0 277.3 L413.5 277.3 L414.0 277.3 L414.5 277.4 L415.0 277.4 L415.5 277.4 L416.0 277.5 L416.5 277.5 L417.0 277.5 L417.5 277.5 L418.0 277.6 L418.5 277.6 L419.0 277.6 L419.5 277.6 L420.0 277.7 L420.5 277.7 L421.0 277.7 L421.5 277.7 L422.0 277.8 L422.5 277.8 L423.0 277.8 L423.5 277.8 L424.0 277.8 L424.5 277.9 L425.0 277.9 L425.5 277.9 L426.0 277.9 L426.5 277.9 L427.0 278.0 L427.5 278.0 L428.0 278.0 L428.5 278.0 L429.0 278.0 L429.5 278.0 L430.0 278.1 L430.5 278.1 L431.0 278.1 L431.5 278.1 L432.0 278.1 L432.5 278.1 L433.0 278.2 L433.5 278.2 L434.0 278.2 L434.5 278.2 L435.0 278.2 L435.5 278.2 L436.0 278.3 L436.5 278.3 L437.0 278.3 L437.5 278.3 L438.0 278.3 L438.5 278.3 L439.0 278.3 L439.5 278.4 L440.0 278.4 L440.5 278.4 L441.0 278.4 L441.5 278.4 L442.0 278.4 L442.5 278.4 L443.0 278.4 L443.5 278.5 L444.0 278.5 L444.5 278.5 L445.0 278.5 L445.5 278.5 L446.0 278.5 L446.5 278.5 L447.0 278.5 L447.5 278.6 L448.0 278.6 L448.5 278.6 L449.0 278.6 L449.5 278.6 L450.0 278.6 L450.5 278.6 L451.0 278.6 L451.5 278.6" fill="none" stroke="#0000ff" stroke-width="1.70" stroke-linejoin="round"/>
<path d="M281.4 269.6 L281.9 269.6 L282.4 269.5 L282.9 269.4 L283.4 269.3 L283.9 269.1 L284.4 269.0 L284.9 268.9 L285.4 268.8 L285.9 268.7 L286.4 268.6 L286.9 268.4 L287.3 268.3 L287.8 268.2 L288.3 268.0 L288.8 267.9 L289.3 267.7 L289.8 267.6 L290.3 267.4 L290.8 267.3 L291.3 267.1 L291.8 266.9 L292.3 266.7 L292.8 266.5 L293.3 266.3 L293.8 266.1 L294.3 265.9 L294.8 265.7 L295.3 265.5 L295.8 265.2 L296.3 265.0 L296.8 264.7 L297.3 264.5 L297.8 264.2 L298.3 263.9 L298.8 263.6 L299.2 263.3 L299.7 263.0 L300.2 262.6 L300.7 262.3 L301.2 261.9 L301.7 261.5 L302.2 261.1 L302.7 260.7 L303.2 260.3 L303.7 259.8 L304.2 259.3 L304.7 258.8 L305.2 258.3 L305.7 257.7 L306.2 257.2 L306.7 256.6 L307.2 255.9 L307.7 255.3 L308.2 254.6 L308.7 253.8 L309.2 253.1 L309.7 252.2 L310.2 251.4 L310.7 250.5 L311.1 249.6 L311.6 248.6 L312.1 247.5 L312.6 246.4 L313.1 245.3 L313.6 244.1 L314.1 242.8 L314.6 241.5 L315.1 240.1 L315.6 238.6 L316.1 237.1 L316.6 235.4 L317.1 233.8 L317.6 232.0 L318.1 230.2 L318.6 228.2 L319.1 226.3 L319.6 224.2 L320.1 222.1 L320.6 219.9 L321.1 217.7 L321.6 215.4 L322.1 213.0 L322.6 210.7 L323.1 208.3 L323.5 206.0 L324.0 203.6 L324.5 201.3 L325.0 199.0 L325.5 196.7 L326.0 194.4 L326.5 192.1 L327.0 189.7 L327.5 187.2 L328.0 184.4 L328.5 180.8 L329.0 175.9 L329.4 175.5 L329.8 175.0 L330.1 174.7 L330.2 174.6 L330.5 174.3 L330.9 174.1 L331.3 173.7 L331.4 173.6 L331.6 173.3 L332.0 172.9 L332.4 172.3 L332.8 171.7 L333.1 171.1 L333.5 170.4 L333.9 169.6 L334.3 171.1 L334.7 172.7 L335.1 174.2 L335.5 175.8 L335.9 177.5 L336.0 178.0 L336.3 179.2 L336.7 181.0 L337.1 183.0 L337.5 185.1 L337.8 187.2 L338.2 189.2 L338.6 191.0 L339.0 192.7 L339.4 194.2 L339.8 195.4 L340.0 195.8 L340.2 196.3 L340.6 197.1 L341.0 197.9 L341.4 198.6 L341.8 199.3 L342.2 199.8 L342.6 200.2 L343.0 200.4 L343.2 200.4 L343.4 200.4 L343.8 200.2 L344.2 199.8 L344.6 199.3 L345.0 198.7 L345.4 198.1 L345.7 197.4 L346.0 197.0 L346.1 196.8 L346.5 196.0 L346.9 195.2 L347.3 194.2 L347.7 193.2 L348.1 192.1 L348.5 190.9 L348.9 189.6 L349.3 188.3 L349.8 191.8 L350.3 194.5 L350.8 197.0 L351.3 199.5 L351.8 202.0 L352.3 204.5 L352.8 207.0 L353.3 209.5 L353.8 212.0 L354.3 214.4 L354.8 216.9 L355.3 219.3 L355.8 221.6 L356.3 223.9 L356.8 226.1 L357.3 228.2 L357.8 230.3 L358.3 232.2 L358.8 234.1 L359.3 235.9 L359.8 237.6 L360.3 239.2 L360.8 240.8 L361.3 242.2 L361.8 243.6 L362.3 244.9 L362.8 246.2 L363.3 247.4 L363.8 248.5 L364.3 249.6 L364.8 250.6 L365.3 251.6 L365.8 252.5 L366.3 253.4 L366.7 254.3 L367.2 255.1 L367.7 255.8 L368.2 256.5 L368.7 257.2 L369.2 257.9 L369.7 258.5 L370.2 259.1 L370.7 259.7 L371.2 260.2 L371.7 260.8 L372.2 261.3 L372.7 261.8 L373.2 262.2 L373.7 262.7 L374.2 263.1 L374.7 263.5 L375.2 263.9 L375.7 264.3 L376.2 264.6 L376.7 265.0 L377.2 265.3 L377.7 265.6 L378.2 265.9 L378.7 266.2 L379.2 266.5 L379.7 266.8 L380.2 267.1 L380.7 267.3 L381.2 267.6 L381.7 267.8 L382.2 268.0 L382.7 268.3 L383.2 268.5 L383.7 268.7 L384.2 268.9 L384.7 269.1 L385.2 269.3 L385.7 269.5 L386.2 269.7 L386.7 269.9 L387.2 270.0 L387.7 270.2 L388.2 270.4 L388.7 270.5 L389.2 270.7 L389.7 270.8 L390.2 271.0 L390.7 271.1 L391.2 271.2 L391.7 271.4 L392.2 271.5 L392.7 271.6 L393.2 271.8 L393.7 271.9 L394.2 272.0 L394.7 272.1 L395.2 272.2 L395.7 272.3 L396.2 272.4 L396.7 272.5 L397.2 272.6 L397.7 272.7 L398.2 272.8 L398.7 272.9 L399.2 273.0 L399.7 273.1 L400.2 273.2 L400.6 273.3 L401.1 273.4 L401.6 273.5 L402.1 273.6 L402.6 273.6 L403.1 273.7 L403.6 273.8 L404.1 273.9 L404.6 273.9 L405.1 274.0 L405.6 274.1 L406.1 274.2 L406.6 274.2 L407.1 274.3 L407.6 274.4 L408.1 274.4 L408.6 274.5 L409.1 274.5 L409.6 274.6 L410.1 274.7 L410.6 274.7 L411.1 274.8 L411.6 274.8 L412.1 274.9 L412.6 275.0 L413.1 275.0 L413.6 275.1 L414.1 275.1 L414.6 275.2 L415.1 275.2 L415.6 275.3 L416.1 275.3 L416.6 275.4 L417.1 275.4 L417.6 275.5 L418.1 275.5 L418.6 275.5 L419.1 275.6 L419.6 275.6 L420.1 275.7 L420.6 275.7 L421.1 275.8 L421.6 275.8 L422.1 275.8 L422.6 275.9 L423.1 275.9 L423.6 276.0 L424.1 276.0 L424.6 276.0 L425.1 276.1 L425.6 276.1 L426.1 276.1 L426.6 276.2 L427.1 276.2 L427.6 276.2 L428.1 276.3 L428.6 276.3 L429.1 276.4 L429.6 276.4 L430.1 276.4 L430.6 276.4 L431.1 276.5 L431.6 276.5 L432.1 276.5 L432.6 276.6 L433.1 276.6 L433.6 276.6 L434.1 276.7 L434.5 276.7 L435.0 276.7 L435.5 276.7 L436.0 276.8 L436.5 276.8 L437.0 276.8 L437.5 276.9 L438.0 276.9 L438.5 276.9 L439.0 276.9 L439.5 277.0 L440.0 277.0 L440.5 277.0 L441.0 277.0 L441.5 277.1 L442.0 277.1 L442.5 277.1 L443.0 277.1 L443.5 277.2 L444.0 277.2 L444.5 277.2 L445.0 277.2 L445.5 277.2 L446.0 277.3 L446.5 277.3 L447.0 277.3 L447.5 277.3 L448.0 277.3 L448.5 277.4 L449.0 277.4 L449.5 277.4 L450.0 277.4 L450.5 277.5 L451.0 277.5 L451.5 277.5" fill="none" stroke="#00a000" stroke-width="1.50" stroke-linejoin="round"/>
<path d="M281.4 268.3 L281.9 268.2 L282.4 268.0 L282.9 267.9 L283.4 267.8 L283.9 267.7 L284.4 267.5 L284.9 267.4 L285.4 267.2 L285.9 267.1 L286.4 266.9 L286.9 266.8 L287.4 266.6 L287.9 266.4 L288.4 266.3 L288.9 266.1 L289.4 265.9 L289.9 265.7 L290.4 265.5 L290.9 265.3 L291.4 265.1 L291.9 264.8 L292.4 264.6 L292.9 264.4 L293.4 264.1 L293.9 263.8 L294.4 263.6 L294.9 263.3 L295.4 263.0 L295.9 262.7 L296.4 262.4 L296.9 262.1 L297.4 261.7 L297.9 261.4 L298.4 261.0 L298.9 260.6 L299.4 260.2 L299.9 259.8 L300.4 259.4 L300.9 258.9 L301.4 258.4 L301.9 258.0 L302.4 257.4 L302.9 256.9 L303.4 256.3 L303.9 255.8 L304.4 255.2 L304.9 254.5 L305.4 253.9 L305.9 253.2 L306.4 252.4 L306.9 251.7 L307.4 250.9 L307.9 250.1 L308.4 249.2 L308.9 248.3 L309.4 247.3 L309.9 246.3 L310.4 245.3 L310.9 244.2 L311.4 243.1 L311.9 241.9 L312.4 240.6 L312.9 239.3 L313.4 238.0 L313.9 236.6 L314.4 235.1 L314.9 233.6 L315.4 232.0 L315.9 230.3 L316.4 228.6 L316.9 226.8 L317.4 224.9 L317.9 223.0 L318.4 221.0 L318.9 218.9 L319.4 216.8 L319.9 214.7 L320.4 212.4 L320.9 210.1 L321.4 207.8 L321.9 205.4 L322.4 203.0 L322.9 200.5 L323.4 198.0 L323.9 195.5 L324.4 193.0 L324.9 190.4 L325.4 187.8 L325.9 185.2 L326.4 182.6 L326.9 180.0 L327.4 177.4 L327.9 174.9 L328.4 172.6 L328.9 170.4 L329.4 168.5 L329.9 167.2 L330.4 166.5 L334.2 168.3 L334.7 172.4 L335.2 175.4 L335.7 178.1 L336.2 180.6 L336.7 183.1 L337.2 185.5 L337.7 187.9 L338.2 190.4 L338.7 192.9 L339.2 195.4 L339.7 197.9 L340.2 200.5 L340.7 203.0 L341.2 205.5 L341.7 208.0 L342.2 210.5 L342.7 213.0 L343.2 215.3 L343.7 217.7 L344.2 219.9 L344.7 222.1 L345.2 224.2 L345.7 226.2 L346.2 228.2 L346.7 230.1 L347.2 231.9 L347.7 233.6 L348.2 235.3 L348.7 236.9 L349.2 238.4 L349.7 239.9 L350.2 241.2 L350.7 242.6 L351.2 243.8 L351.7 245.0 L352.2 246.2 L352.7 247.3 L353.2 248.3 L353.7 249.3 L354.2 250.2 L354.7 251.2 L355.2 252.0 L355.7 252.8 L356.2 253.6 L356.7 254.4 L357.2 255.1 L357.7 255.8 L358.2 256.5 L358.7 257.1 L359.2 257.7 L359.7 258.3 L360.2 258.9 L360.7 259.4 L361.2 259.9 L361.7 260.4 L362.2 260.9 L362.7 261.3 L363.2 261.8 L363.6 262.2 L364.1 262.6 L364.6 263.0 L365.1 263.4 L365.6 263.7 L366.1 264.1" fill="none" stroke="url(#bk)" stroke-width="1.60" stroke-linejoin="round"/>
<text x="53.30" y="12.50" fill="#000" text-anchor="end">0.002</text>
<text x="53.30" y="77.72" fill="#000" text-anchor="end">0.001</text>
<text x="53.30" y="142.95" fill="#000" text-anchor="end">0</text>
<text x="274.00" y="12.50" fill="#000" text-anchor="end">0.03</text>
<text x="274.00" y="55.98" fill="#000" text-anchor="end">0.02</text>
<text x="274.00" y="99.47" fill="#000" text-anchor="end">0.01</text>
<text x="274.00" y="142.95" fill="#000" text-anchor="end">0</text>
<text x="53.30" y="159.85" fill="#000" text-anchor="end">1</text>
<text x="53.30" y="185.97" fill="#000" text-anchor="end">0.8</text>
<text x="53.30" y="212.09" fill="#000" text-anchor="end">0.6</text>
<text x="53.30" y="238.21" fill="#000" text-anchor="end">0.4</text>
<text x="53.30" y="264.33" fill="#000" text-anchor="end">0.2</text>
<text x="53.30" y="290.45" fill="#000" text-anchor="end">0</text>
<text x="274.00" y="159.85" fill="#000" text-anchor="end">0.8</text>
<text x="274.00" y="192.50" fill="#000" text-anchor="end">0.6</text>
<text x="274.00" y="225.15" fill="#000" text-anchor="end">0.4</text>
<text x="274.00" y="257.80" fill="#000" text-anchor="end">0.2</text>
<text x="274.00" y="290.45" fill="#000" text-anchor="end">0</text>
<text x="60.00" y="304.20" fill="#000" text-anchor="middle">2.4</text>
<text x="88.40" y="304.20" fill="#000" text-anchor="middle">2.6</text>
<text x="116.80" y="304.20" fill="#000" text-anchor="middle">2.8</text>
<text x="145.20" y="304.20" fill="#000" text-anchor="middle">3</text>
<text x="173.60" y="304.20" fill="#000" text-anchor="middle">3.2</text>
<text x="202.00" y="304.20" fill="#000" text-anchor="middle">3.4</text>
<text x="230.40" y="304.20" fill="#000" text-anchor="middle">3.6</text>
<text x="120.00" y="319.7" fill="#000"><tspan class="R">R</tspan> (nm )</text>
<text x="281.40" y="304.20" fill="#000" text-anchor="middle">2.4</text>
<text x="309.75" y="304.20" fill="#000" text-anchor="middle">2.6</text>
<text x="338.10" y="304.20" fill="#000" text-anchor="middle">2.8</text>
<text x="366.45" y="304.20" fill="#000" text-anchor="middle">3</text>
<text x="394.80" y="304.20" fill="#000" text-anchor="middle">3.2</text>
<text x="423.15" y="304.20" fill="#000" text-anchor="middle">3.4</text>
<text x="451.50" y="304.20" fill="#000" text-anchor="middle">3.6</text>
<text x="341.40" y="319.7" fill="#000"><tspan class="R">R</tspan> (nm )</text>
<text x="229.30" y="22.90" fill="#000" text-anchor="end" class="lb">(a)</text>
<text x="450.50" y="22.90" fill="#000" text-anchor="end" class="lb">(b)</text>
<text x="229.30" y="170.40" fill="#000" text-anchor="end" class="lb">(c)</text>
<text x="450.50" y="170.40" fill="#000" text-anchor="end" class="lb">(d)</text>
<text x="74.30" y="35.60" fill="#0000ff" class="lb">(1,3,3)</text>
<text x="116.90" y="96.70" fill="#00a000" class="lb">(1,4,-1)</text>
<text x="173.40" y="126.50" fill="#ff0000" class="lb">(1,2,-2)</text>
<text x="380.50" y="39.00" fill="#00a000" class="lb">(2,1,0)</text>
<text x="338.20" y="96.90" fill="#0000ff" class="lb">(2,0,0)</text>
<text x="283.80" y="122.00" fill="#ff0000" class="lb">(1,0,0)</text>
<text x="88.70" y="179.80" fill="#ff0000" class="lb">(2,3,0)</text>
<text x="159.60" y="209.70" fill="#00a000" class="lb">(3,0,0)</text>
<text x="64.40" y="275.40" fill="#0000ff" class="lb">(1,5,0)</text>
<text x="380.20" y="207.80" fill="#000" class="lb">(2,2,m)</text>
<text transform="translate(13.30 72.70) rotate(-90)" text-anchor="middle" style="font-size:16.25px" fill="#000">BX admixture</text>
<text transform="translate(18.00 219.80) rotate(-90)" text-anchor="middle" style="font-size:16.25px" fill="#000">BX admixture</text>
</svg>
</body></html>
